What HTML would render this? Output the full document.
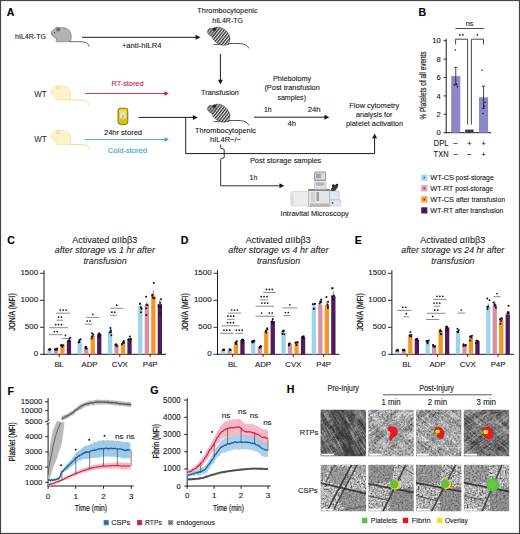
<!DOCTYPE html>
<html><head><meta charset="utf-8"><style>
html,body{margin:0;padding:0;background:#fff;overflow:hidden}
svg{display:block}
text{font-family:"Liberation Sans",sans-serif}
</style></head><body>
<svg width="520" height="534" viewBox="0 0 520 534" font-family="Liberation Sans, sans-serif" fill="#1a1a1a">
<rect x="0.5" y="0.5" width="519" height="533" fill="none" stroke="#444" stroke-width="1.2"/>
<text x="6.7" y="16" font-size="10.6" font-weight="bold" fill="#000" stroke="#000" stroke-width="0.12">A</text>
<text x="418.5" y="16" font-size="10.6" font-weight="bold" fill="#000" stroke="#000" stroke-width="0.12">B</text>
<text x="7.2" y="244.3" font-size="10.6" font-weight="bold" fill="#000" stroke="#000" stroke-width="0.12">C</text>
<text x="180.8" y="244.3" font-size="10.6" font-weight="bold" fill="#000" stroke="#000" stroke-width="0.12">D</text>
<text x="354.7" y="244.3" font-size="10.6" font-weight="bold" fill="#000" stroke="#000" stroke-width="0.12">E</text>
<text x="7.5" y="394.6" font-size="10.6" font-weight="bold" fill="#000" stroke="#000" stroke-width="0.12">F</text>
<text x="150.3" y="394.2" font-size="10.6" font-weight="bold" fill="#000" stroke="#000" stroke-width="0.12">G</text>
<text x="286.8" y="393.3" font-size="10.6" font-weight="bold" fill="#000" stroke="#000" stroke-width="0.12">H</text>
<defs>
<pattern id="stripes" patternUnits="userSpaceOnUse" width="2.4" height="2.4" patternTransform="rotate(38)">
<rect width="2.4" height="2.4" fill="#f2f2f2"/><rect width="1.25" height="2.4" fill="#2a2a2a"/></pattern>
<linearGradient id="bagg" x1="0" y1="0" x2="1" y2="0"><stop offset="0" stop-color="#e0b400"/><stop offset="0.5" stop-color="#f6d33a"/><stop offset="1" stop-color="#d8a800"/></linearGradient>
</defs>
<g transform="translate(51 26.2) scale(1)">
<path d="M18.6 15.3C24 15.8 30 15.2 34 16C36.4 16.6 37.6 18.2 37.9 20" fill="none" stroke="#5a5a5a" stroke-width="0.9" stroke-linecap="round"/>
<path d="M0 7C0.4 5 1.8 3.6 3.6 2.8C4.6 0.8 7.6 0.2 9 1.6C12.5 0.8 17.2 2.2 19.2 5.6C20.6 8.4 20.6 12.6 19.2 15.4L5.6 15.6C4.6 14.8 4.8 13.4 5.8 12.8C3.6 11.6 1 9.6 0 7Z" fill="#b2b2b2" stroke="#6e6e6e" stroke-width="0.6"/>
<ellipse cx="7.2" cy="3.4" rx="2.1" ry="1.9" fill="#6a6a6a"/>
<circle cx="3.6" cy="6.4" r="0.7" fill="#333"/>
<path d="M0.2 7.4C0.8 8 1.6 8.2 2.4 8" fill="none" stroke="#6e6e6e" stroke-width="0.6"/>
</g>
<g transform="translate(0 0)">
<path d="M226 43.6C231 43.8 236 43.2 240.5 43.6C244.5 44 247.5 45.5 248.8 48" fill="none" stroke="#3a3a3a" stroke-width="0.9" stroke-linecap="round"/>
<path d="M213.5 44.5L229 44.5" stroke="#666" stroke-width="1"/>
<path d="M228.48 43.29L227.58 44.09L226.52 44.69L225.31 45.08L223.98 45.26L222.57 45.21L221.12 44.94L219.65 44.45L218.2 43.76L216.81 42.89L215.51 41.85L214.34 40.67L213.33 39.38L212.49 38.01L211.86 36.6L211.43 35.18L211.24 33.78L211.27 32.44L211.54 31.2L212.02 30.08L212.72 29.11L213.62 28.31L214.68 27.71L215.89 27.32L217.22 27.14L218.63 27.19L220.08 27.46L221.55 27.95L223 28.64L224.39 29.51L225.69 30.55L226.86 31.73L227.87 33.02L228.71 34.39L229.34 35.8L229.77 37.22L229.96 38.62L229.93 39.96L229.66 41.2L229.18 42.32Z" fill="url(#stripes)" stroke="#333" stroke-width="0.5"/>
<path d="M215.04 34.61L214.68 35.04L214.23 35.4L213.73 35.69L213.17 35.88L212.57 35.99L211.95 36L211.32 35.92L210.7 35.75L210.1 35.49L209.54 35.15L209.02 34.74L208.57 34.26L208.2 33.73L207.91 33.17L207.71 32.58L207.6 31.98L207.6 31.39L207.69 30.82L207.88 30.28L208.16 29.79L208.52 29.36L208.97 29L209.47 28.71L210.03 28.52L210.63 28.41L211.25 28.4L211.88 28.48L212.5 28.65L213.1 28.91L213.66 29.25L214.18 29.66L214.63 30.14L215 30.67L215.29 31.23L215.49 31.82L215.6 32.42L215.6 33.01L215.51 33.58L215.32 34.12Z" fill="#7a7a7a" stroke="#333" stroke-width="0.5"/>
<path d="M215.04 34.61L214.68 35.04L214.23 35.4L213.73 35.69L213.17 35.88L212.57 35.99L211.95 36L211.32 35.92L210.7 35.75L210.1 35.49L209.54 35.15L209.02 34.74L208.57 34.26L208.2 33.73L207.91 33.17L207.71 32.58L207.6 31.98L207.6 31.39L207.69 30.82L207.88 30.28L208.16 29.79L208.52 29.36L208.97 29L209.47 28.71L210.03 28.52L210.63 28.41L211.25 28.4L211.88 28.48L212.5 28.65L213.1 28.91L213.66 29.25L214.18 29.66L214.63 30.14L215 30.67L215.29 31.23L215.49 31.82L215.6 32.42L215.6 33.01L215.51 33.58L215.32 34.12Z" fill="url(#stripes)" fill-opacity="0.45"/>
<ellipse cx="214.4" cy="29.2" rx="1.9" ry="1.6" fill="#2a2a2a"/>
</g>
<g transform="translate(0 77)">
<path d="M226 43.6C231 43.8 236 43.2 240.5 43.6C244.5 44 247.5 45.5 248.8 48" fill="none" stroke="#3a3a3a" stroke-width="0.9" stroke-linecap="round"/>
<path d="M213.5 44.5L229 44.5" stroke="#666" stroke-width="1"/>
<path d="M228.48 43.29L227.58 44.09L226.52 44.69L225.31 45.08L223.98 45.26L222.57 45.21L221.12 44.94L219.65 44.45L218.2 43.76L216.81 42.89L215.51 41.85L214.34 40.67L213.33 39.38L212.49 38.01L211.86 36.6L211.43 35.18L211.24 33.78L211.27 32.44L211.54 31.2L212.02 30.08L212.72 29.11L213.62 28.31L214.68 27.71L215.89 27.32L217.22 27.14L218.63 27.19L220.08 27.46L221.55 27.95L223 28.64L224.39 29.51L225.69 30.55L226.86 31.73L227.87 33.02L228.71 34.39L229.34 35.8L229.77 37.22L229.96 38.62L229.93 39.96L229.66 41.2L229.18 42.32Z" fill="url(#stripes)" stroke="#333" stroke-width="0.5"/>
<path d="M215.04 34.61L214.68 35.04L214.23 35.4L213.73 35.69L213.17 35.88L212.57 35.99L211.95 36L211.32 35.92L210.7 35.75L210.1 35.49L209.54 35.15L209.02 34.74L208.57 34.26L208.2 33.73L207.91 33.17L207.71 32.58L207.6 31.98L207.6 31.39L207.69 30.82L207.88 30.28L208.16 29.79L208.52 29.36L208.97 29L209.47 28.71L210.03 28.52L210.63 28.41L211.25 28.4L211.88 28.48L212.5 28.65L213.1 28.91L213.66 29.25L214.18 29.66L214.63 30.14L215 30.67L215.29 31.23L215.49 31.82L215.6 32.42L215.6 33.01L215.51 33.58L215.32 34.12Z" fill="#7a7a7a" stroke="#333" stroke-width="0.5"/>
<path d="M215.04 34.61L214.68 35.04L214.23 35.4L213.73 35.69L213.17 35.88L212.57 35.99L211.95 36L211.32 35.92L210.7 35.75L210.1 35.49L209.54 35.15L209.02 34.74L208.57 34.26L208.2 33.73L207.91 33.17L207.71 32.58L207.6 31.98L207.6 31.39L207.69 30.82L207.88 30.28L208.16 29.79L208.52 29.36L208.97 29L209.47 28.71L210.03 28.52L210.63 28.41L211.25 28.4L211.88 28.48L212.5 28.65L213.1 28.91L213.66 29.25L214.18 29.66L214.63 30.14L215 30.67L215.29 31.23L215.49 31.82L215.6 32.42L215.6 33.01L215.51 33.58L215.32 34.12Z" fill="url(#stripes)" fill-opacity="0.45"/>
<ellipse cx="214.4" cy="29.2" rx="1.9" ry="1.6" fill="#2a2a2a"/>
</g>
<g transform="translate(50.6 84.4) scale(1)">
<path d="M18.6 15.3C24 15.8 30 15.2 34 16C36.4 16.6 37.6 18.2 37.9 20" fill="none" stroke="#ecd684" stroke-width="0.9" stroke-linecap="round"/>
<path d="M0 7C0.4 5 1.8 3.6 3.6 2.8C4.6 0.8 7.6 0.2 9 1.6C12.5 0.8 17.2 2.2 19.2 5.6C20.6 8.4 20.6 12.6 19.2 15.4L5.6 15.6C4.6 14.8 4.8 13.4 5.8 12.8C3.6 11.6 1 9.6 0 7Z" fill="#fcf3cc" stroke="#f0dc94" stroke-width="0.6"/>
<ellipse cx="7.2" cy="3.4" rx="2.1" ry="1.9" fill="#f4e2a4"/>
<path d="M0.2 7.4C0.8 8 1.6 8.2 2.4 8" fill="none" stroke="#f0dc94" stroke-width="0.6"/>
</g>
<g transform="translate(50.8 129) scale(1)">
<path d="M18.6 15.3C24 15.8 30 15.2 34 16C36.4 16.6 37.6 18.2 37.9 20" fill="none" stroke="#ecd684" stroke-width="0.9" stroke-linecap="round"/>
<path d="M0 7C0.4 5 1.8 3.6 3.6 2.8C4.6 0.8 7.6 0.2 9 1.6C12.5 0.8 17.2 2.2 19.2 5.6C20.6 8.4 20.6 12.6 19.2 15.4L5.6 15.6C4.6 14.8 4.8 13.4 5.8 12.8C3.6 11.6 1 9.6 0 7Z" fill="#fcf3cc" stroke="#f0dc94" stroke-width="0.6"/>
<ellipse cx="7.2" cy="3.4" rx="2.1" ry="1.9" fill="#f4e2a4"/>
<path d="M0.2 7.4C0.8 8 1.6 8.2 2.4 8" fill="none" stroke="#f0dc94" stroke-width="0.6"/>
</g>
<text x="15" y="38.5" font-size="7.81" textLength="31" lengthAdjust="spacingAndGlyphs" stroke="#1a1a1a" stroke-width="0.12">hIL4R-TG</text>
<line x1="82" y1="37.3" x2="196" y2="37.3" stroke="#1a1a1a" stroke-width="1" />
<path d="M200.5 37.3L195.55 34.82L195.55 39.77Z" fill="#1a1a1a" stroke="none" stroke-width="1" />
<text x="141.7" y="48" font-size="7.81" text-anchor="middle" textLength="39.6" lengthAdjust="spacingAndGlyphs" stroke="#1a1a1a" stroke-width="0.12">+anti-hILR4</text>
<text x="227.5" y="12.6" font-size="7.81" text-anchor="middle" textLength="60.3" lengthAdjust="spacingAndGlyphs" stroke="#1a1a1a" stroke-width="0.12">Thrombocytopenic</text>
<text x="227.6" y="22.8" font-size="7.81" text-anchor="middle" textLength="30.7" lengthAdjust="spacingAndGlyphs" stroke="#1a1a1a" stroke-width="0.12">hIL4R-TG</text>
<line x1="220.4" y1="54" x2="220.4" y2="80" stroke="#1a1a1a" stroke-width="1" />
<path d="M220.4 84.6L217.93 79.65L222.88 79.65Z" fill="#1a1a1a" stroke="none" stroke-width="1" />
<text x="220" y="94.9" font-size="7.81" text-anchor="middle" textLength="37.8" lengthAdjust="spacingAndGlyphs" stroke="#1a1a1a" stroke-width="0.12">Transfusion</text>
<text x="34.2" y="96.7" font-size="8.24" textLength="12.4" lengthAdjust="spacingAndGlyphs">WT</text>
<text x="34.2" y="141.7" font-size="8.24" textLength="12.4" lengthAdjust="spacingAndGlyphs">WT</text>
<text x="127.5" y="86" font-size="7.81" text-anchor="middle" fill="#c8204a" textLength="32" lengthAdjust="spacingAndGlyphs" stroke="#c8204a" stroke-width="0.12">RT-stored</text>
<line x1="85" y1="93.5" x2="165" y2="93.5" stroke="#c8204a" stroke-width="0.9" />
<path d="M169 93.5L164.5 91.25L164.5 95.75Z" fill="#c8204a" stroke="none" stroke-width="1" />
<text x="127.4" y="153.4" font-size="7.81" text-anchor="middle" fill="#36a5d6" textLength="39.3" lengthAdjust="spacingAndGlyphs" stroke="#36a5d6" stroke-width="0.12">Cold-stored</text>
<line x1="85" y1="139.6" x2="165" y2="139.6" stroke="#36a5d6" stroke-width="0.9" />
<path d="M169 139.6L164.5 137.35L164.5 141.85Z" fill="#36a5d6" stroke="none" stroke-width="1" />
<text x="123" y="135.4" font-size="7.81" text-anchor="middle" textLength="38" lengthAdjust="spacingAndGlyphs" stroke="#1a1a1a" stroke-width="0.12">24hr stored</text>
<g><rect x="118" y="108.2" width="9.8" height="16.2" rx="2.6" fill="#e4cc10" stroke="#5e5000" stroke-width="0.8"/><rect x="119.2" y="110" width="7.4" height="3" rx="1" fill="#f2e030"/><rect x="120" y="112.6" width="5.8" height="5.6" rx="0.6" fill="#dfe4d8"/><path d="M121.4 117.6L122.9 114L124.4 117.6Z" fill="#a8b4c8"/><rect x="119.2" y="119.6" width="7.4" height="3.6" rx="1.2" fill="#d8c000"/></g>
<line x1="138.5" y1="117.4" x2="194" y2="117.4" stroke="#1a1a1a" stroke-width="1" />
<path d="M197.8 117.4L192.85 114.93L192.85 119.88Z" fill="#1a1a1a" stroke="none" stroke-width="1" />
<path d="M185.7 117.4V153.6H374.6V137" fill="none" stroke="#1a1a1a" stroke-width="1" />
<path d="M374.6 133.4L372.12 138.35L377.08 138.35Z" fill="#1a1a1a" stroke="none" stroke-width="1" />
<text x="225.5" y="133.2" font-size="7.81" text-anchor="middle" textLength="61" lengthAdjust="spacingAndGlyphs" stroke="#1a1a1a" stroke-width="0.12">Thrombocytopenic</text>
<text x="225.5" y="141.6" font-size="7.81" text-anchor="middle" textLength="31" lengthAdjust="spacingAndGlyphs" stroke="#1a1a1a" stroke-width="0.12">hIL4R−/−</text>
<line x1="254" y1="117.2" x2="325" y2="117.2" stroke="#1a1a1a" stroke-width="1" />
<path d="M329.4 117.2L324.45 114.73L324.45 119.67Z" fill="#1a1a1a" stroke="none" stroke-width="1" />
<text x="264" y="112.3" font-size="7.81" textLength="7.6" lengthAdjust="spacingAndGlyphs" stroke="#1a1a1a" stroke-width="0.12">1h</text>
<text x="307.7" y="112.3" font-size="7.81" textLength="13" lengthAdjust="spacingAndGlyphs" stroke="#1a1a1a" stroke-width="0.12">24h</text>
<text x="287.5" y="126.3" font-size="7.81" textLength="8.5" lengthAdjust="spacingAndGlyphs" stroke="#1a1a1a" stroke-width="0.12">4h</text>
<text x="292" y="81.2" font-size="7.81" text-anchor="middle" textLength="38" lengthAdjust="spacingAndGlyphs" stroke="#1a1a1a" stroke-width="0.12">Phlebotomy</text>
<text x="292.1" y="90.3" font-size="7.81" text-anchor="middle" textLength="55.4" lengthAdjust="spacingAndGlyphs" stroke="#1a1a1a" stroke-width="0.12">(Post transfusion</text>
<text x="291.7" y="99.5" font-size="7.81" text-anchor="middle" textLength="28.6" lengthAdjust="spacingAndGlyphs" stroke="#1a1a1a" stroke-width="0.12">samples)</text>
<text x="374.3" y="108.2" font-size="7.81" text-anchor="middle" textLength="50" lengthAdjust="spacingAndGlyphs" stroke="#1a1a1a" stroke-width="0.12">Flow cytometry</text>
<text x="374.2" y="116.9" font-size="7.81" text-anchor="middle" textLength="36.6" lengthAdjust="spacingAndGlyphs" stroke="#1a1a1a" stroke-width="0.12">analysis for</text>
<text x="374.5" y="126.2" font-size="7.81" text-anchor="middle" textLength="57" lengthAdjust="spacingAndGlyphs" stroke="#1a1a1a" stroke-width="0.12">platelet activation</text>
<text x="285.6" y="163.4" font-size="7.81" text-anchor="middle" textLength="71.4" lengthAdjust="spacingAndGlyphs" stroke="#1a1a1a" stroke-width="0.12">Post storage samples</text>
<path d="M220.7 144.4V147.6Q220.7 148.8 222 148.8H223Q224.2 148.8 224.2 150V157Q224.2 158.2 223 158.2H222Q220.7 158.2 220.7 159.4V185.8H281" fill="none" stroke="#1a1a1a" stroke-width="0.9" />
<path d="M284.4 185.8L279.45 183.33L279.45 188.28Z" fill="#1a1a1a" stroke="none" stroke-width="1" />
<text x="249.6" y="180" font-size="7.81" textLength="7.6" lengthAdjust="spacingAndGlyphs" stroke="#1a1a1a" stroke-width="0.12">1h</text>
<text x="314.7" y="216.4" font-size="7.81" text-anchor="middle" textLength="68.2" lengthAdjust="spacingAndGlyphs" stroke="#1a1a1a" stroke-width="0.12">Intravital Microscopy</text>
<g><rect x="290.8" y="191.5" width="18.6" height="14.5" rx="1.5" fill="#ececee" stroke="#c4c4c8" stroke-width="0.5"/><rect x="291.6" y="193" width="2.2" height="11.5" fill="#dcdce0"/><rect x="308.6" y="189.4" width="21" height="17" fill="#e4e4e8" stroke="#909096" stroke-width="0.5"/><rect x="308.6" y="189.4" width="21" height="1.2" fill="#55555a"/><rect x="311" y="192" width="4" height="10" fill="#d0d0d4"/><rect x="316.5" y="192" width="2.4" height="9" fill="#9a9aa0"/><rect x="314.4" y="180" width="11.6" height="9.4" fill="#e0e0e4" stroke="#a0a0a6" stroke-width="0.4"/><rect x="316" y="182.5" width="8" height="3" fill="#b0b0b6"/><rect x="314.6" y="172" width="11" height="8.2" rx="0.8" fill="#dadade" stroke="#5a5a60" stroke-width="0.6"/><rect x="316" y="173.6" width="5" height="4.6" fill="#a4a4aa"/><path d="M330 191L333 185.5L336.5 184.6L338 187L335 191Z" fill="#3a3a40"/><circle cx="333.2" cy="185.6" r="1.3" fill="#222"/><circle cx="337" cy="185" r="1.3" fill="#222"/><rect x="329.6" y="191" width="9.6" height="9" rx="1" fill="#dfe6f2" stroke="#9aa0b0" stroke-width="0.4"/><rect x="329.6" y="200" width="11" height="6" fill="#e8e8ec" stroke="#a0a0a8" stroke-width="0.4"/><circle cx="332.5" cy="203" r="0.9" fill="#555"/><rect x="310" y="203.5" width="19" height="2.6" fill="#b4b4ba"/></g>
<line x1="446.2" y1="38.8" x2="446.2" y2="133.2" stroke="#1a1a1a" stroke-width="1" />
<line x1="445.7" y1="132.7" x2="491" y2="132.7" stroke="#1a1a1a" stroke-width="1" />
<line x1="443.6" y1="132.7" x2="446.2" y2="132.7" stroke="#1a1a1a" stroke-width="0.9" />
<text x="440.7" y="135.3" font-size="7.6" text-anchor="end" stroke="#1a1a1a" stroke-width="0.12">0</text>
<line x1="443.6" y1="114.3" x2="446.2" y2="114.3" stroke="#1a1a1a" stroke-width="0.9" />
<text x="440.7" y="116.9" font-size="7.6" text-anchor="end" stroke="#1a1a1a" stroke-width="0.12">2</text>
<line x1="443.6" y1="95.9" x2="446.2" y2="95.9" stroke="#1a1a1a" stroke-width="0.9" />
<text x="440.7" y="98.5" font-size="7.6" text-anchor="end" stroke="#1a1a1a" stroke-width="0.12">4</text>
<line x1="443.6" y1="77.5" x2="446.2" y2="77.5" stroke="#1a1a1a" stroke-width="0.9" />
<text x="440.7" y="80.1" font-size="7.6" text-anchor="end" stroke="#1a1a1a" stroke-width="0.12">6</text>
<line x1="443.6" y1="59.1" x2="446.2" y2="59.1" stroke="#1a1a1a" stroke-width="0.9" />
<text x="440.7" y="61.7" font-size="7.6" text-anchor="end" stroke="#1a1a1a" stroke-width="0.12">8</text>
<line x1="443.6" y1="40.7" x2="446.2" y2="40.7" stroke="#1a1a1a" stroke-width="0.9" />
<text x="440.7" y="43.3" font-size="7.6" text-anchor="end" stroke="#1a1a1a" stroke-width="0.12">10</text>
<rect x="451.2" y="76.12" width="9.1" height="56.58" fill="#8b87c8" />
<line x1="455.75" y1="67.38" x2="455.75" y2="84.86" stroke="#1a1a1a" stroke-width="0.8" />
<line x1="454.15" y1="67.38" x2="457.35" y2="67.38" stroke="#1a1a1a" stroke-width="0.8" />
<line x1="454.15" y1="84.86" x2="457.35" y2="84.86" stroke="#1a1a1a" stroke-width="0.8" />
<circle cx="454.25" cy="84.86" r="0.75" fill="#111"/>
<circle cx="456.55" cy="83.94" r="0.75" fill="#111"/>
<circle cx="455.35" cy="49.9" r="0.75" fill="#111"/>
<circle cx="457.35" cy="86.7" r="0.75" fill="#111"/>
<rect x="464" y="131.6" width="9.1" height="1.1" fill="#8b87c8" />
<line x1="468.55" y1="130.86" x2="468.55" y2="132.33" stroke="#1a1a1a" stroke-width="0.8" />
<line x1="466.95" y1="130.86" x2="470.15" y2="130.86" stroke="#1a1a1a" stroke-width="0.8" />
<circle cx="467.05" cy="131.78" r="0.75" fill="#111"/>
<circle cx="469.35" cy="131.32" r="0.75" fill="#111"/>
<circle cx="468.15" cy="132.24" r="0.75" fill="#111"/>
<circle cx="470.15" cy="131.78" r="0.75" fill="#111"/>
<rect x="479" y="97.28" width="9.1" height="35.42" fill="#8b87c8" />
<line x1="483.55" y1="86.24" x2="483.55" y2="108.32" stroke="#1a1a1a" stroke-width="0.8" />
<line x1="481.95" y1="86.24" x2="485.15" y2="86.24" stroke="#1a1a1a" stroke-width="0.8" />
<line x1="481.95" y1="108.32" x2="485.15" y2="108.32" stroke="#1a1a1a" stroke-width="0.8" />
<circle cx="482.05" cy="70.14" r="0.75" fill="#111"/>
<circle cx="484.35" cy="106.02" r="0.75" fill="#111"/>
<circle cx="483.15" cy="113.38" r="0.75" fill="#111"/>
<circle cx="485.15" cy="102.34" r="0.75" fill="#111"/>
<rect x="465.3" y="129.6" width="8.2" height="2.8" fill="#2a2a2a" />
<rect x="467" y="130.4" width="1" height="1.2" fill="#888" />
<rect x="470" y="130.4" width="1" height="1.2" fill="#888" />
<path d="M455.6 44.5V39.2H467.6V124.6" fill="none" stroke="#1a1a1a" stroke-width="0.8" />
<path d="M471.4 124.6V39.2H483.5V44.5" fill="none" stroke="#1a1a1a" stroke-width="0.8" />
<line x1="455.4" y1="28.5" x2="483.8" y2="28.5" stroke="#1a1a1a" stroke-width="0.8" />
<text x="469.6" y="25.6" font-size="7.4" text-anchor="middle" stroke="#1a1a1a" stroke-width="0.12">ns</text>
<circle cx="459.9" cy="34.8" r="0.85" fill="#111"/><circle cx="462.9" cy="34.8" r="0.85" fill="#111"/>
<circle cx="477.4" cy="34.8" r="0.85" fill="#111"/>
<text x="0" y="0" font-size="8.67" text-anchor="middle" textLength="68" lengthAdjust="spacingAndGlyphs" transform="translate(426.2 85.5) rotate(-90)" stroke="#1a1a1a" stroke-width="0.18">% Platelets of all events</text>
<text x="433.6" y="146" font-size="9.2" textLength="15" lengthAdjust="spacingAndGlyphs" stroke="#1a1a1a" stroke-width="0.12">DPL</text>
<text x="433.6" y="157" font-size="9.2" textLength="15" lengthAdjust="spacingAndGlyphs" stroke="#1a1a1a" stroke-width="0.12">TXN</text>
<text x="455.6" y="145.6" font-size="8" text-anchor="middle" stroke="#1a1a1a" stroke-width="0.12">−</text>
<text x="469.3" y="145.6" font-size="8" text-anchor="middle" stroke="#1a1a1a" stroke-width="0.12">+</text>
<text x="483.6" y="145.6" font-size="8" text-anchor="middle" stroke="#1a1a1a" stroke-width="0.12">+</text>
<text x="455.6" y="156.6" font-size="8" text-anchor="middle" stroke="#1a1a1a" stroke-width="0.12">−</text>
<text x="469.3" y="156.6" font-size="8" text-anchor="middle" stroke="#1a1a1a" stroke-width="0.12">−</text>
<text x="483.6" y="156.6" font-size="8" text-anchor="middle" stroke="#1a1a1a" stroke-width="0.12">+</text>
<rect x="421.2" y="174.6" width="6.2" height="6.2" fill="#a5d8f0" />
<circle cx="424.3" cy="177.7" r="0.85" fill="#2a6a9a"/>
<text x="430.2" y="180.4" font-size="7.9" textLength="63.5" lengthAdjust="spacingAndGlyphs" stroke="#1a1a1a" stroke-width="0.12">WT-CS<tspan font-size="7.3"> post-storage</tspan></text>
<rect x="421.2" y="185.2" width="6.2" height="6.2" fill="#e2a0ae" />
<circle cx="424.3" cy="188.3" r="0.85" fill="#7a2a3a"/>
<text x="430.2" y="191" font-size="7.9" textLength="62.8" lengthAdjust="spacingAndGlyphs" stroke="#1a1a1a" stroke-width="0.12">WT-RT<tspan font-size="7.3"> post-storage</tspan></text>
<rect x="421.2" y="196.3" width="6.2" height="6.2" fill="#f5a23a" />
<circle cx="424.3" cy="199.4" r="0.85" fill="#6a3a00"/>
<text x="430.2" y="202.1" font-size="7.9" textLength="74.8" lengthAdjust="spacingAndGlyphs" stroke="#1a1a1a" stroke-width="0.12">WT-CS<tspan font-size="7.3"> after transfusion</tspan></text>
<rect x="421.2" y="207.3" width="6.2" height="6.2" fill="#4e1c5e" />
<circle cx="424.3" cy="210.4" r="0.85" fill="#2a0a3a"/>
<text x="430.2" y="213.1" font-size="7.9" textLength="73.1" lengthAdjust="spacingAndGlyphs" stroke="#1a1a1a" stroke-width="0.12">WT-RT<tspan font-size="7.3"> after transfusion</tspan></text>
<text x="104.8" y="242.7" font-size="9.2" text-anchor="middle" textLength="65" lengthAdjust="spacingAndGlyphs" stroke="#1a1a1a" stroke-width="0.08">Activated αIIbβ3</text>
<text x="104.9" y="253.3" font-size="9.2" text-anchor="middle" font-style="italic" textLength="100.4" lengthAdjust="spacingAndGlyphs" stroke="#1a1a1a" stroke-width="0.08">after storage vs 1 hr after</text>
<text x="105" y="263.8" font-size="9.2" text-anchor="middle" font-style="italic" textLength="43.2" lengthAdjust="spacingAndGlyphs" stroke="#1a1a1a" stroke-width="0.08">transfusion</text>
<line x1="44" y1="270.2" x2="44" y2="354.8" stroke="#1a1a1a" stroke-width="1" />
<line x1="43.5" y1="354.3" x2="166" y2="354.3" stroke="#1a1a1a" stroke-width="1" />
<line x1="40" y1="354.3" x2="44" y2="354.3" stroke="#1a1a1a" stroke-width="0.9" />
<text x="38.1" y="356.4" font-size="7.49" text-anchor="end" textLength="4.42" lengthAdjust="spacingAndGlyphs" stroke="#1a1a1a" stroke-width="0.12">0</text>
<line x1="40" y1="327.3" x2="44" y2="327.3" stroke="#1a1a1a" stroke-width="0.9" />
<text x="38.1" y="329.4" font-size="7.49" text-anchor="end" textLength="13.26" lengthAdjust="spacingAndGlyphs" stroke="#1a1a1a" stroke-width="0.12">500</text>
<line x1="40" y1="300.3" x2="44" y2="300.3" stroke="#1a1a1a" stroke-width="0.9" />
<text x="38.1" y="302.4" font-size="7.49" text-anchor="end" textLength="17.68" lengthAdjust="spacingAndGlyphs" stroke="#1a1a1a" stroke-width="0.12">1000</text>
<line x1="40" y1="273.3" x2="44" y2="273.3" stroke="#1a1a1a" stroke-width="0.9" />
<text x="38.1" y="275.4" font-size="7.49" text-anchor="end" textLength="17.68" lengthAdjust="spacingAndGlyphs" stroke="#1a1a1a" stroke-width="0.12">1500</text>
<text x="0" y="0" font-size="8.77" text-anchor="middle" textLength="37.6" lengthAdjust="spacingAndGlyphs" transform="translate(14.7 312) rotate(-90)" stroke="#1a1a1a" stroke-width="0.3">JON/A (MFI)</text>
<line x1="59.2" y1="354.3" x2="59.2" y2="356.9" stroke="#1a1a1a" stroke-width="0.9" />
<text x="59.2" y="367.1" font-size="7.8" text-anchor="middle" stroke="#1a1a1a" stroke-width="0.12">BL</text>
<rect x="47.3" y="349.44" width="4.3" height="4.86" fill="#9bd3ee" />
<line x1="49.45" y1="348.63" x2="49.45" y2="349.44" stroke="#333" stroke-width="0.6" />
<circle cx="49.61" cy="349.45" r="1.0" fill="#111"/>
<circle cx="49.36" cy="349.17" r="1.0" fill="#111"/>
<circle cx="49.68" cy="349.42" r="1.0" fill="#111"/>
<circle cx="49.48" cy="350.04" r="1.0" fill="#111"/>
<circle cx="50.21" cy="349.13" r="1.0" fill="#111"/>
<rect x="53.8" y="349.44" width="4.3" height="4.86" fill="#d98fa0" />
<line x1="55.95" y1="348.63" x2="55.95" y2="349.44" stroke="#333" stroke-width="0.6" />
<circle cx="55.44" cy="349.67" r="1.0" fill="#111"/>
<circle cx="56.76" cy="349.68" r="1.0" fill="#111"/>
<circle cx="54.76" cy="349.31" r="1.0" fill="#111"/>
<circle cx="57.16" cy="348.41" r="1.0" fill="#111"/>
<circle cx="56.25" cy="349.08" r="1.0" fill="#111"/>
<rect x="60.3" y="345.12" width="4.3" height="9.18" fill="#f6951f" />
<line x1="62.45" y1="344.31" x2="62.45" y2="345.12" stroke="#333" stroke-width="0.6" />
<circle cx="61.19" cy="345.49" r="1.0" fill="#111"/>
<circle cx="61.3" cy="345.06" r="1.0" fill="#111"/>
<circle cx="61.78" cy="345.45" r="1.0" fill="#111"/>
<circle cx="62.36" cy="346.84" r="1.0" fill="#111"/>
<circle cx="63.34" cy="345.26" r="1.0" fill="#111"/>
<rect x="66.8" y="340.8" width="4.3" height="13.5" fill="#4e1c5e" />
<line x1="68.95" y1="339.72" x2="68.95" y2="340.8" stroke="#333" stroke-width="0.6" />
<circle cx="69.31" cy="340.73" r="1.0" fill="#111"/>
<circle cx="69.37" cy="340.76" r="1.0" fill="#111"/>
<circle cx="68.37" cy="340.83" r="1.0" fill="#111"/>
<circle cx="70.24" cy="337.84" r="1.0" fill="#111"/>
<circle cx="69.49" cy="338.74" r="1.0" fill="#111"/>
<line x1="89.5" y1="354.3" x2="89.5" y2="356.9" stroke="#1a1a1a" stroke-width="0.9" />
<text x="89.5" y="367.1" font-size="7.8" text-anchor="middle" stroke="#1a1a1a" stroke-width="0.12">ADP</text>
<rect x="77.6" y="341.88" width="4.3" height="12.42" fill="#9bd3ee" />
<line x1="79.75" y1="340.89" x2="79.75" y2="341.88" stroke="#333" stroke-width="0.6" />
<circle cx="79.05" cy="342.13" r="1.0" fill="#111"/>
<circle cx="78.63" cy="342.17" r="1.0" fill="#111"/>
<circle cx="79.49" cy="341.43" r="1.0" fill="#111"/>
<circle cx="79.45" cy="339.95" r="1.0" fill="#111"/>
<circle cx="80.65" cy="339.37" r="1.0" fill="#111"/>
<rect x="84.1" y="347.55" width="4.3" height="6.75" fill="#d98fa0" />
<line x1="86.25" y1="346.74" x2="86.25" y2="347.55" stroke="#333" stroke-width="0.6" />
<circle cx="85.5" cy="347.95" r="1.0" fill="#111"/>
<circle cx="86.17" cy="347.18" r="1.0" fill="#111"/>
<circle cx="85.98" cy="347.12" r="1.0" fill="#111"/>
<circle cx="86.59" cy="348.69" r="1.0" fill="#111"/>
<circle cx="85.65" cy="346.69" r="1.0" fill="#111"/>
<rect x="90.6" y="335.67" width="4.3" height="18.63" fill="#f6951f" />
<line x1="92.75" y1="334.18" x2="92.75" y2="335.67" stroke="#333" stroke-width="0.6" />
<circle cx="92.31" cy="336.58" r="1.0" fill="#111"/>
<circle cx="93.42" cy="334.52" r="1.0" fill="#111"/>
<circle cx="92.09" cy="336.51" r="1.0" fill="#111"/>
<circle cx="91.61" cy="338.61" r="1.0" fill="#111"/>
<circle cx="91.91" cy="333.16" r="1.0" fill="#111"/>
<rect x="97.1" y="333.78" width="4.3" height="20.52" fill="#4e1c5e" />
<line x1="99.25" y1="332.14" x2="99.25" y2="333.78" stroke="#333" stroke-width="0.6" />
<circle cx="99.11" cy="333.57" r="1.0" fill="#111"/>
<circle cx="99.85" cy="334.52" r="1.0" fill="#111"/>
<circle cx="99.62" cy="334.67" r="1.0" fill="#111"/>
<circle cx="99.04" cy="336.88" r="1.0" fill="#111"/>
<circle cx="98.65" cy="336.05" r="1.0" fill="#111"/>
<line x1="119.8" y1="354.3" x2="119.8" y2="356.9" stroke="#1a1a1a" stroke-width="0.9" />
<text x="119.8" y="367.1" font-size="7.8" text-anchor="middle" stroke="#1a1a1a" stroke-width="0.12">CVX</text>
<rect x="107.9" y="331.62" width="4.3" height="22.68" fill="#9bd3ee" />
<line x1="110.05" y1="329.81" x2="110.05" y2="331.62" stroke="#333" stroke-width="0.6" />
<circle cx="110.84" cy="330.21" r="1.0" fill="#111"/>
<circle cx="111.05" cy="332.11" r="1.0" fill="#111"/>
<circle cx="109.78" cy="332.38" r="1.0" fill="#111"/>
<circle cx="110.42" cy="328.02" r="1.0" fill="#111"/>
<circle cx="111.32" cy="335.2" r="1.0" fill="#111"/>
<rect x="114.4" y="344.58" width="4.3" height="9.72" fill="#d98fa0" />
<line x1="116.55" y1="343.77" x2="116.55" y2="344.58" stroke="#333" stroke-width="0.6" />
<circle cx="115.92" cy="344.9" r="1.0" fill="#111"/>
<circle cx="116.11" cy="344.22" r="1.0" fill="#111"/>
<circle cx="115.44" cy="344.8" r="1.0" fill="#111"/>
<circle cx="116.77" cy="346.16" r="1.0" fill="#111"/>
<circle cx="116.81" cy="345.53" r="1.0" fill="#111"/>
<rect x="120.9" y="342.96" width="4.3" height="11.34" fill="#f6951f" />
<line x1="123.05" y1="342.05" x2="123.05" y2="342.96" stroke="#333" stroke-width="0.6" />
<circle cx="122.93" cy="343.11" r="1.0" fill="#111"/>
<circle cx="123.01" cy="342.27" r="1.0" fill="#111"/>
<circle cx="124" cy="342.82" r="1.0" fill="#111"/>
<circle cx="122.15" cy="344.36" r="1.0" fill="#111"/>
<circle cx="123.88" cy="340.9" r="1.0" fill="#111"/>
<rect x="127.4" y="339.18" width="4.3" height="15.12" fill="#4e1c5e" />
<line x1="129.55" y1="337.97" x2="129.55" y2="339.18" stroke="#333" stroke-width="0.6" />
<circle cx="128.74" cy="339.61" r="1.0" fill="#111"/>
<circle cx="130.7" cy="338.68" r="1.0" fill="#111"/>
<circle cx="130.72" cy="339.71" r="1.0" fill="#111"/>
<circle cx="129.82" cy="336.6" r="1.0" fill="#111"/>
<circle cx="128.52" cy="339.53" r="1.0" fill="#111"/>
<line x1="150.1" y1="354.3" x2="150.1" y2="356.9" stroke="#1a1a1a" stroke-width="0.9" />
<text x="150.1" y="367.1" font-size="7.8" text-anchor="middle" stroke="#1a1a1a" stroke-width="0.12">P4P</text>
<rect x="138.2" y="306.24" width="4.3" height="48.06" fill="#9bd3ee" />
<line x1="140.35" y1="302.4" x2="140.35" y2="306.24" stroke="#333" stroke-width="0.6" />
<circle cx="141.55" cy="308.89" r="1.0" fill="#111"/>
<circle cx="140.88" cy="307.68" r="1.0" fill="#111"/>
<circle cx="141.19" cy="307.57" r="1.0" fill="#111"/>
<circle cx="139.81" cy="303.81" r="1.0" fill="#111"/>
<circle cx="140.92" cy="312.31" r="1.0" fill="#111"/>
<rect x="144.7" y="305.7" width="4.3" height="48.6" fill="#d98fa0" />
<line x1="146.85" y1="301.81" x2="146.85" y2="305.7" stroke="#333" stroke-width="0.6" />
<circle cx="146.14" cy="308.19" r="1.0" fill="#111"/>
<circle cx="147.77" cy="305.19" r="1.0" fill="#111"/>
<circle cx="146.28" cy="304.85" r="1.0" fill="#111"/>
<circle cx="146.08" cy="296.69" r="1.0" fill="#111"/>
<circle cx="146.25" cy="315.08" r="1.0" fill="#111"/>
<rect x="151.2" y="295.44" width="4.3" height="58.86" fill="#f6951f" />
<line x1="153.35" y1="290.73" x2="153.35" y2="295.44" stroke="#333" stroke-width="0.6" />
<circle cx="152.21" cy="295.67" r="1.0" fill="#111"/>
<circle cx="153.01" cy="297.66" r="1.0" fill="#111"/>
<circle cx="152.39" cy="294.73" r="1.0" fill="#111"/>
<circle cx="154.37" cy="298.26" r="1.0" fill="#111"/>
<circle cx="153.76" cy="282.97" r="1.0" fill="#111"/>
<rect x="157.7" y="304.08" width="4.3" height="50.22" fill="#4e1c5e" />
<line x1="159.85" y1="300.06" x2="159.85" y2="304.08" stroke="#333" stroke-width="0.6" />
<circle cx="160.07" cy="302.72" r="1.0" fill="#111"/>
<circle cx="158.64" cy="306.21" r="1.0" fill="#111"/>
<circle cx="160.92" cy="306.98" r="1.0" fill="#111"/>
<circle cx="161.05" cy="299.34" r="1.0" fill="#111"/>
<circle cx="160.2" cy="313.68" r="1.0" fill="#111"/>
<line x1="49.1" y1="334.7" x2="62.5" y2="334.7" stroke="#5a5a5a" stroke-width="0.7" />
<circle cx="54.35" cy="331.6" r="0.85" fill="#111"/><circle cx="57.25" cy="331.6" r="0.85" fill="#111"/>
<line x1="49.1" y1="327.7" x2="68.1" y2="327.7" stroke="#5a5a5a" stroke-width="0.7" />
<circle cx="55.7" cy="324.6" r="0.85" fill="#111"/><circle cx="58.6" cy="324.6" r="0.85" fill="#111"/><circle cx="61.5" cy="324.6" r="0.85" fill="#111"/>
<line x1="56.6" y1="320.2" x2="63.2" y2="320.2" stroke="#5a5a5a" stroke-width="0.7" />
<circle cx="58.45" cy="317.1" r="0.85" fill="#111"/><circle cx="61.35" cy="317.1" r="0.85" fill="#111"/>
<line x1="56.2" y1="313.2" x2="70.2" y2="313.2" stroke="#5a5a5a" stroke-width="0.7" />
<circle cx="60.3" cy="310.1" r="0.85" fill="#111"/><circle cx="63.2" cy="310.1" r="0.85" fill="#111"/><circle cx="66.1" cy="310.1" r="0.85" fill="#111"/>
<line x1="62.2" y1="338.5" x2="68.8" y2="338.5" stroke="#5a5a5a" stroke-width="0.7" />
<circle cx="65.5" cy="335.4" r="0.85" fill="#111"/>
<line x1="85" y1="324.2" x2="92.3" y2="324.2" stroke="#5a5a5a" stroke-width="0.7" />
<circle cx="87.2" cy="321.1" r="0.85" fill="#111"/><circle cx="90.1" cy="321.1" r="0.85" fill="#111"/>
<line x1="86.4" y1="317.4" x2="99.3" y2="317.4" stroke="#5a5a5a" stroke-width="0.7" />
<circle cx="92.85" cy="314.3" r="0.85" fill="#111"/>
<line x1="109.9" y1="315.3" x2="116.7" y2="315.3" stroke="#5a5a5a" stroke-width="0.7" />
<circle cx="111.85" cy="312.2" r="0.85" fill="#111"/><circle cx="114.75" cy="312.2" r="0.85" fill="#111"/>
<line x1="109.9" y1="308.3" x2="123.5" y2="308.3" stroke="#5a5a5a" stroke-width="0.7" />
<circle cx="116.7" cy="305.2" r="0.85" fill="#111"/>
<text x="278.3" y="242.7" font-size="9.2" text-anchor="middle" textLength="65" lengthAdjust="spacingAndGlyphs" stroke="#1a1a1a" stroke-width="0.08">Activated αIIbβ3</text>
<text x="278.4" y="253.3" font-size="9.2" text-anchor="middle" font-style="italic" textLength="100.4" lengthAdjust="spacingAndGlyphs" stroke="#1a1a1a" stroke-width="0.08">after storage vs 4 hr after</text>
<text x="278.5" y="263.8" font-size="9.2" text-anchor="middle" font-style="italic" textLength="43.2" lengthAdjust="spacingAndGlyphs" stroke="#1a1a1a" stroke-width="0.08">transfusion</text>
<line x1="217.5" y1="270.2" x2="217.5" y2="354.8" stroke="#1a1a1a" stroke-width="1" />
<line x1="217" y1="354.3" x2="339.5" y2="354.3" stroke="#1a1a1a" stroke-width="1" />
<line x1="213.5" y1="354.3" x2="217.5" y2="354.3" stroke="#1a1a1a" stroke-width="0.9" />
<text x="211.6" y="356.4" font-size="7.49" text-anchor="end" textLength="4.42" lengthAdjust="spacingAndGlyphs" stroke="#1a1a1a" stroke-width="0.12">0</text>
<line x1="213.5" y1="327.3" x2="217.5" y2="327.3" stroke="#1a1a1a" stroke-width="0.9" />
<text x="211.6" y="329.4" font-size="7.49" text-anchor="end" textLength="13.26" lengthAdjust="spacingAndGlyphs" stroke="#1a1a1a" stroke-width="0.12">500</text>
<line x1="213.5" y1="300.3" x2="217.5" y2="300.3" stroke="#1a1a1a" stroke-width="0.9" />
<text x="211.6" y="302.4" font-size="7.49" text-anchor="end" textLength="17.68" lengthAdjust="spacingAndGlyphs" stroke="#1a1a1a" stroke-width="0.12">1000</text>
<line x1="213.5" y1="273.3" x2="217.5" y2="273.3" stroke="#1a1a1a" stroke-width="0.9" />
<text x="211.6" y="275.4" font-size="7.49" text-anchor="end" textLength="17.68" lengthAdjust="spacingAndGlyphs" stroke="#1a1a1a" stroke-width="0.12">1500</text>
<text x="0" y="0" font-size="8.77" text-anchor="middle" textLength="37.6" lengthAdjust="spacingAndGlyphs" transform="translate(188.2 312) rotate(-90)" stroke="#1a1a1a" stroke-width="0.3">JON/A (MFI)</text>
<line x1="232.7" y1="354.3" x2="232.7" y2="356.9" stroke="#1a1a1a" stroke-width="0.9" />
<text x="232.7" y="367.1" font-size="7.8" text-anchor="middle" stroke="#1a1a1a" stroke-width="0.12">BL</text>
<rect x="220.8" y="349.98" width="4.3" height="4.32" fill="#9bd3ee" />
<line x1="222.95" y1="349.17" x2="222.95" y2="349.98" stroke="#333" stroke-width="0.6" />
<circle cx="223.55" cy="349.98" r="1.0" fill="#111"/>
<circle cx="224.25" cy="350.07" r="1.0" fill="#111"/>
<circle cx="223.07" cy="350.2" r="1.0" fill="#111"/>
<circle cx="223.99" cy="349.51" r="1.0" fill="#111"/>
<circle cx="223.48" cy="349.51" r="1.0" fill="#111"/>
<rect x="227.3" y="349.98" width="4.3" height="4.32" fill="#d98fa0" />
<line x1="229.45" y1="349.17" x2="229.45" y2="349.98" stroke="#333" stroke-width="0.6" />
<circle cx="230.53" cy="349.81" r="1.0" fill="#111"/>
<circle cx="229.93" cy="350.05" r="1.0" fill="#111"/>
<circle cx="230.41" cy="349.75" r="1.0" fill="#111"/>
<circle cx="230.21" cy="350.09" r="1.0" fill="#111"/>
<circle cx="229.64" cy="349.28" r="1.0" fill="#111"/>
<rect x="233.8" y="343.5" width="4.3" height="10.8" fill="#f6951f" />
<line x1="235.95" y1="342.64" x2="235.95" y2="343.5" stroke="#333" stroke-width="0.6" />
<circle cx="235.64" cy="343.3" r="1.0" fill="#111"/>
<circle cx="236.23" cy="343.36" r="1.0" fill="#111"/>
<circle cx="236.31" cy="344.04" r="1.0" fill="#111"/>
<circle cx="236.94" cy="341.15" r="1.0" fill="#111"/>
<circle cx="235.66" cy="342.36" r="1.0" fill="#111"/>
<rect x="240.3" y="339.99" width="4.3" height="14.31" fill="#4e1c5e" />
<line x1="242.45" y1="338.85" x2="242.45" y2="339.99" stroke="#333" stroke-width="0.6" />
<circle cx="242.66" cy="339.52" r="1.0" fill="#111"/>
<circle cx="243.33" cy="340.05" r="1.0" fill="#111"/>
<circle cx="243.1" cy="340.7" r="1.0" fill="#111"/>
<circle cx="242.71" cy="342.67" r="1.0" fill="#111"/>
<circle cx="241.75" cy="339.96" r="1.0" fill="#111"/>
<line x1="263" y1="354.3" x2="263" y2="356.9" stroke="#1a1a1a" stroke-width="0.9" />
<text x="263" y="367.1" font-size="7.8" text-anchor="middle" stroke="#1a1a1a" stroke-width="0.12">ADP</text>
<rect x="251.1" y="341.07" width="4.3" height="13.23" fill="#9bd3ee" />
<line x1="253.25" y1="340.01" x2="253.25" y2="341.07" stroke="#333" stroke-width="0.6" />
<circle cx="253.24" cy="340.7" r="1.0" fill="#111"/>
<circle cx="254.34" cy="340.84" r="1.0" fill="#111"/>
<circle cx="251.98" cy="341.44" r="1.0" fill="#111"/>
<circle cx="253.71" cy="342.04" r="1.0" fill="#111"/>
<circle cx="252.39" cy="342.59" r="1.0" fill="#111"/>
<rect x="257.6" y="347.01" width="4.3" height="7.29" fill="#d98fa0" />
<line x1="259.75" y1="346.2" x2="259.75" y2="347.01" stroke="#333" stroke-width="0.6" />
<circle cx="260.17" cy="346.62" r="1.0" fill="#111"/>
<circle cx="260.77" cy="347.04" r="1.0" fill="#111"/>
<circle cx="260.18" cy="347.15" r="1.0" fill="#111"/>
<circle cx="259.57" cy="347.86" r="1.0" fill="#111"/>
<circle cx="260.83" cy="346" r="1.0" fill="#111"/>
<rect x="264.1" y="331.62" width="4.3" height="22.68" fill="#f6951f" />
<line x1="266.25" y1="329.81" x2="266.25" y2="331.62" stroke="#333" stroke-width="0.6" />
<circle cx="265.95" cy="330.47" r="1.0" fill="#111"/>
<circle cx="265.77" cy="331.31" r="1.0" fill="#111"/>
<circle cx="266.24" cy="332.59" r="1.0" fill="#111"/>
<circle cx="267.16" cy="328.18" r="1.0" fill="#111"/>
<circle cx="267.42" cy="329.38" r="1.0" fill="#111"/>
<rect x="270.6" y="321.09" width="4.3" height="33.21" fill="#4e1c5e" />
<line x1="272.75" y1="318.43" x2="272.75" y2="321.09" stroke="#333" stroke-width="0.6" />
<circle cx="271.89" cy="321.92" r="1.0" fill="#111"/>
<circle cx="272.17" cy="321.2" r="1.0" fill="#111"/>
<circle cx="272.53" cy="322.19" r="1.0" fill="#111"/>
<circle cx="272.73" cy="319" r="1.0" fill="#111"/>
<circle cx="273.63" cy="323.33" r="1.0" fill="#111"/>
<line x1="293.3" y1="354.3" x2="293.3" y2="356.9" stroke="#1a1a1a" stroke-width="0.9" />
<text x="293.3" y="367.1" font-size="7.8" text-anchor="middle" stroke="#1a1a1a" stroke-width="0.12">CVX</text>
<rect x="281.4" y="332.7" width="4.3" height="21.6" fill="#9bd3ee" />
<line x1="283.55" y1="330.97" x2="283.55" y2="332.7" stroke="#333" stroke-width="0.6" />
<circle cx="283.43" cy="331.32" r="1.0" fill="#111"/>
<circle cx="282.33" cy="333.79" r="1.0" fill="#111"/>
<circle cx="282.36" cy="331.62" r="1.0" fill="#111"/>
<circle cx="283.73" cy="330.59" r="1.0" fill="#111"/>
<circle cx="284.31" cy="334.22" r="1.0" fill="#111"/>
<rect x="287.9" y="344.04" width="4.3" height="10.26" fill="#d98fa0" />
<line x1="290.05" y1="343.22" x2="290.05" y2="344.04" stroke="#333" stroke-width="0.6" />
<circle cx="289.1" cy="344.63" r="1.0" fill="#111"/>
<circle cx="288.81" cy="344.07" r="1.0" fill="#111"/>
<circle cx="289.37" cy="343.58" r="1.0" fill="#111"/>
<circle cx="288.87" cy="345.48" r="1.0" fill="#111"/>
<circle cx="289.91" cy="343.38" r="1.0" fill="#111"/>
<rect x="294.4" y="342.69" width="4.3" height="11.61" fill="#f6951f" />
<line x1="296.55" y1="341.76" x2="296.55" y2="342.69" stroke="#333" stroke-width="0.6" />
<circle cx="296.95" cy="342.47" r="1.0" fill="#111"/>
<circle cx="297.74" cy="342.21" r="1.0" fill="#111"/>
<circle cx="295.77" cy="342.39" r="1.0" fill="#111"/>
<circle cx="295.71" cy="342.7" r="1.0" fill="#111"/>
<circle cx="296.48" cy="344.96" r="1.0" fill="#111"/>
<rect x="300.9" y="337.29" width="4.3" height="17.01" fill="#4e1c5e" />
<line x1="303.05" y1="335.93" x2="303.05" y2="337.29" stroke="#333" stroke-width="0.6" />
<circle cx="302.22" cy="336.78" r="1.0" fill="#111"/>
<circle cx="302.65" cy="337.73" r="1.0" fill="#111"/>
<circle cx="303.1" cy="336.82" r="1.0" fill="#111"/>
<circle cx="303.72" cy="336.3" r="1.0" fill="#111"/>
<circle cx="303.81" cy="337.88" r="1.0" fill="#111"/>
<line x1="323.6" y1="354.3" x2="323.6" y2="356.9" stroke="#1a1a1a" stroke-width="0.9" />
<text x="323.6" y="367.1" font-size="7.8" text-anchor="middle" stroke="#1a1a1a" stroke-width="0.12">P4P</text>
<rect x="311.7" y="306.78" width="4.3" height="47.52" fill="#9bd3ee" />
<line x1="313.85" y1="302.98" x2="313.85" y2="306.78" stroke="#333" stroke-width="0.6" />
<circle cx="312.78" cy="304.21" r="1.0" fill="#111"/>
<circle cx="314.43" cy="304.05" r="1.0" fill="#111"/>
<circle cx="313.73" cy="308.85" r="1.0" fill="#111"/>
<circle cx="314.92" cy="303.8" r="1.0" fill="#111"/>
<circle cx="314.03" cy="308.76" r="1.0" fill="#111"/>
<rect x="318.2" y="304.62" width="4.3" height="49.68" fill="#d98fa0" />
<line x1="320.35" y1="300.65" x2="320.35" y2="304.62" stroke="#333" stroke-width="0.6" />
<circle cx="321.12" cy="302.1" r="1.0" fill="#111"/>
<circle cx="320.26" cy="301.69" r="1.0" fill="#111"/>
<circle cx="319.58" cy="303.52" r="1.0" fill="#111"/>
<circle cx="321.18" cy="299.49" r="1.0" fill="#111"/>
<circle cx="320.92" cy="301.17" r="1.0" fill="#111"/>
<rect x="324.7" y="304.89" width="4.3" height="49.41" fill="#f6951f" />
<line x1="326.85" y1="300.94" x2="326.85" y2="304.89" stroke="#333" stroke-width="0.6" />
<circle cx="327.89" cy="306.53" r="1.0" fill="#111"/>
<circle cx="328.09" cy="301.75" r="1.0" fill="#111"/>
<circle cx="327.61" cy="304.51" r="1.0" fill="#111"/>
<circle cx="327.92" cy="308.12" r="1.0" fill="#111"/>
<circle cx="326.46" cy="297.01" r="1.0" fill="#111"/>
<rect x="331.2" y="296.25" width="4.3" height="58.05" fill="#4e1c5e" />
<line x1="333.35" y1="291.61" x2="333.35" y2="296.25" stroke="#333" stroke-width="0.6" />
<circle cx="333.2" cy="299.13" r="1.0" fill="#111"/>
<circle cx="334.05" cy="295.71" r="1.0" fill="#111"/>
<circle cx="332.12" cy="296.17" r="1.0" fill="#111"/>
<circle cx="332.22" cy="288.13" r="1.0" fill="#111"/>
<circle cx="332.5" cy="288.36" r="1.0" fill="#111"/>
<line x1="220.1" y1="333.3" x2="233.6" y2="333.3" stroke="#5a5a5a" stroke-width="0.7" />
<circle cx="223.95" cy="330.2" r="0.85" fill="#111"/><circle cx="226.85" cy="330.2" r="0.85" fill="#111"/><circle cx="229.75" cy="330.2" r="0.85" fill="#111"/>
<line x1="235.5" y1="333.3" x2="243" y2="333.3" stroke="#5a5a5a" stroke-width="0.7" />
<circle cx="236.35" cy="330.2" r="0.85" fill="#111"/><circle cx="239.25" cy="330.2" r="0.85" fill="#111"/><circle cx="242.15" cy="330.2" r="0.85" fill="#111"/>
<line x1="221.5" y1="325.8" x2="239.6" y2="325.8" stroke="#5a5a5a" stroke-width="0.7" />
<circle cx="227.65" cy="322.7" r="0.85" fill="#111"/><circle cx="230.55" cy="322.7" r="0.85" fill="#111"/><circle cx="233.45" cy="322.7" r="0.85" fill="#111"/>
<line x1="227" y1="319.3" x2="234.6" y2="319.3" stroke="#5a5a5a" stroke-width="0.7" />
<circle cx="227.9" cy="316.2" r="0.85" fill="#111"/><circle cx="230.8" cy="316.2" r="0.85" fill="#111"/><circle cx="233.7" cy="316.2" r="0.85" fill="#111"/>
<line x1="228" y1="313.1" x2="241.1" y2="313.1" stroke="#5a5a5a" stroke-width="0.7" />
<circle cx="231.65" cy="310" r="0.85" fill="#111"/><circle cx="234.55" cy="310" r="0.85" fill="#111"/><circle cx="237.45" cy="310" r="0.85" fill="#111"/>
<line x1="255.4" y1="316.2" x2="267.9" y2="316.2" stroke="#5a5a5a" stroke-width="0.7" />
<circle cx="261.65" cy="313.1" r="0.85" fill="#111"/>
<line x1="266.9" y1="316.2" x2="274.6" y2="316.2" stroke="#5a5a5a" stroke-width="0.7" />
<circle cx="269.3" cy="313.1" r="0.85" fill="#111"/><circle cx="272.2" cy="313.1" r="0.85" fill="#111"/>
<line x1="255.4" y1="306.2" x2="274.2" y2="306.2" stroke="#5a5a5a" stroke-width="0.7" />
<circle cx="261.9" cy="303.1" r="0.85" fill="#111"/><circle cx="264.8" cy="303.1" r="0.85" fill="#111"/><circle cx="267.7" cy="303.1" r="0.85" fill="#111"/>
<line x1="260.2" y1="299.8" x2="267.9" y2="299.8" stroke="#5a5a5a" stroke-width="0.7" />
<circle cx="261.15" cy="296.7" r="0.85" fill="#111"/><circle cx="264.05" cy="296.7" r="0.85" fill="#111"/><circle cx="266.95" cy="296.7" r="0.85" fill="#111"/>
<line x1="263.1" y1="292.5" x2="275.6" y2="292.5" stroke="#5a5a5a" stroke-width="0.7" />
<circle cx="266.45" cy="289.4" r="0.85" fill="#111"/><circle cx="269.35" cy="289.4" r="0.85" fill="#111"/><circle cx="272.25" cy="289.4" r="0.85" fill="#111"/>
<line x1="283.3" y1="315.6" x2="290.4" y2="315.6" stroke="#5a5a5a" stroke-width="0.7" />
<circle cx="285.4" cy="312.5" r="0.85" fill="#111"/><circle cx="288.3" cy="312.5" r="0.85" fill="#111"/>
<line x1="282.3" y1="307.9" x2="297.3" y2="307.9" stroke="#5a5a5a" stroke-width="0.7" />
<circle cx="289.8" cy="304.8" r="0.85" fill="#111"/>
<text x="452.7" y="242.7" font-size="9.2" text-anchor="middle" textLength="65" lengthAdjust="spacingAndGlyphs" stroke="#1a1a1a" stroke-width="0.08">Activated αIIbβ3</text>
<text x="452.8" y="253.3" font-size="9.2" text-anchor="middle" font-style="italic" textLength="103" lengthAdjust="spacingAndGlyphs" stroke="#1a1a1a" stroke-width="0.08">after storage vs 24 hr after</text>
<text x="452.9" y="263.8" font-size="9.2" text-anchor="middle" font-style="italic" textLength="43.2" lengthAdjust="spacingAndGlyphs" stroke="#1a1a1a" stroke-width="0.08">transfusion</text>
<line x1="391.9" y1="270.2" x2="391.9" y2="354.8" stroke="#1a1a1a" stroke-width="1" />
<line x1="391.4" y1="354.3" x2="513.9" y2="354.3" stroke="#1a1a1a" stroke-width="1" />
<line x1="387.9" y1="354.3" x2="391.9" y2="354.3" stroke="#1a1a1a" stroke-width="0.9" />
<text x="386" y="356.4" font-size="7.49" text-anchor="end" textLength="4.42" lengthAdjust="spacingAndGlyphs" stroke="#1a1a1a" stroke-width="0.12">0</text>
<line x1="387.9" y1="327.3" x2="391.9" y2="327.3" stroke="#1a1a1a" stroke-width="0.9" />
<text x="386" y="329.4" font-size="7.49" text-anchor="end" textLength="13.26" lengthAdjust="spacingAndGlyphs" stroke="#1a1a1a" stroke-width="0.12">500</text>
<line x1="387.9" y1="300.3" x2="391.9" y2="300.3" stroke="#1a1a1a" stroke-width="0.9" />
<text x="386" y="302.4" font-size="7.49" text-anchor="end" textLength="17.68" lengthAdjust="spacingAndGlyphs" stroke="#1a1a1a" stroke-width="0.12">1000</text>
<line x1="387.9" y1="273.3" x2="391.9" y2="273.3" stroke="#1a1a1a" stroke-width="0.9" />
<text x="386" y="275.4" font-size="7.49" text-anchor="end" textLength="17.68" lengthAdjust="spacingAndGlyphs" stroke="#1a1a1a" stroke-width="0.12">1500</text>
<text x="0" y="0" font-size="8.77" text-anchor="middle" textLength="37.6" lengthAdjust="spacingAndGlyphs" transform="translate(362.6 312) rotate(-90)" stroke="#1a1a1a" stroke-width="0.3">JON/A (MFI)</text>
<line x1="407.1" y1="354.3" x2="407.1" y2="356.9" stroke="#1a1a1a" stroke-width="0.9" />
<text x="407.1" y="367.1" font-size="7.8" text-anchor="middle" stroke="#1a1a1a" stroke-width="0.12">BL</text>
<rect x="395.2" y="350.52" width="4.3" height="3.78" fill="#9bd3ee" />
<line x1="397.35" y1="349.71" x2="397.35" y2="350.52" stroke="#333" stroke-width="0.6" />
<circle cx="398.1" cy="350.59" r="1.0" fill="#111"/>
<circle cx="396.44" cy="350.68" r="1.0" fill="#111"/>
<circle cx="397.93" cy="350.5" r="1.0" fill="#111"/>
<circle cx="397.84" cy="349.94" r="1.0" fill="#111"/>
<circle cx="397.33" cy="349.77" r="1.0" fill="#111"/>
<rect x="401.7" y="350.25" width="4.3" height="4.05" fill="#d98fa0" />
<line x1="403.85" y1="349.44" x2="403.85" y2="350.25" stroke="#333" stroke-width="0.6" />
<circle cx="402.77" cy="350.01" r="1.0" fill="#111"/>
<circle cx="403.92" cy="350.38" r="1.0" fill="#111"/>
<circle cx="404.44" cy="350.34" r="1.0" fill="#111"/>
<circle cx="403.91" cy="349.97" r="1.0" fill="#111"/>
<circle cx="404.01" cy="349.62" r="1.0" fill="#111"/>
<rect x="408.2" y="335.94" width="4.3" height="18.36" fill="#f6951f" />
<line x1="410.35" y1="334.47" x2="410.35" y2="335.94" stroke="#333" stroke-width="0.6" />
<circle cx="410.04" cy="336.32" r="1.0" fill="#111"/>
<circle cx="411.39" cy="335.09" r="1.0" fill="#111"/>
<circle cx="411.26" cy="336.56" r="1.0" fill="#111"/>
<circle cx="410.41" cy="332.14" r="1.0" fill="#111"/>
<circle cx="409.57" cy="335.19" r="1.0" fill="#111"/>
<rect x="414.7" y="339.72" width="4.3" height="14.58" fill="#4e1c5e" />
<line x1="416.85" y1="338.55" x2="416.85" y2="339.72" stroke="#333" stroke-width="0.6" />
<circle cx="416.86" cy="339.61" r="1.0" fill="#111"/>
<circle cx="415.62" cy="339.48" r="1.0" fill="#111"/>
<circle cx="416.89" cy="338.81" r="1.0" fill="#111"/>
<circle cx="417.63" cy="340.18" r="1.0" fill="#111"/>
<circle cx="416.83" cy="339.19" r="1.0" fill="#111"/>
<line x1="437.4" y1="354.3" x2="437.4" y2="356.9" stroke="#1a1a1a" stroke-width="0.9" />
<text x="437.4" y="367.1" font-size="7.8" text-anchor="middle" stroke="#1a1a1a" stroke-width="0.12">ADP</text>
<rect x="425.5" y="341.34" width="4.3" height="12.96" fill="#9bd3ee" />
<line x1="427.65" y1="340.3" x2="427.65" y2="341.34" stroke="#333" stroke-width="0.6" />
<circle cx="426.52" cy="340.99" r="1.0" fill="#111"/>
<circle cx="427.43" cy="341.24" r="1.0" fill="#111"/>
<circle cx="428.75" cy="340.56" r="1.0" fill="#111"/>
<circle cx="427.58" cy="342.47" r="1.0" fill="#111"/>
<circle cx="427.48" cy="343.24" r="1.0" fill="#111"/>
<rect x="432" y="346.47" width="4.3" height="7.83" fill="#d98fa0" />
<line x1="434.15" y1="345.66" x2="434.15" y2="346.47" stroke="#333" stroke-width="0.6" />
<circle cx="435.19" cy="346.14" r="1.0" fill="#111"/>
<circle cx="433.67" cy="346.47" r="1.0" fill="#111"/>
<circle cx="434.46" cy="346.75" r="1.0" fill="#111"/>
<circle cx="433.19" cy="344.99" r="1.0" fill="#111"/>
<circle cx="432.91" cy="345.47" r="1.0" fill="#111"/>
<rect x="438.5" y="330.54" width="4.3" height="23.76" fill="#f6951f" />
<line x1="440.65" y1="328.64" x2="440.65" y2="330.54" stroke="#333" stroke-width="0.6" />
<circle cx="439.94" cy="331.38" r="1.0" fill="#111"/>
<circle cx="440.19" cy="329.91" r="1.0" fill="#111"/>
<circle cx="440.96" cy="330.9" r="1.0" fill="#111"/>
<circle cx="441.25" cy="334.25" r="1.0" fill="#111"/>
<circle cx="440.68" cy="334.07" r="1.0" fill="#111"/>
<rect x="445" y="327.3" width="4.3" height="27" fill="#4e1c5e" />
<line x1="447.15" y1="325.14" x2="447.15" y2="327.3" stroke="#333" stroke-width="0.6" />
<circle cx="446.36" cy="328.07" r="1.0" fill="#111"/>
<circle cx="446.99" cy="327.12" r="1.0" fill="#111"/>
<circle cx="446.92" cy="327.64" r="1.0" fill="#111"/>
<circle cx="446.27" cy="326.7" r="1.0" fill="#111"/>
<circle cx="447.49" cy="330.38" r="1.0" fill="#111"/>
<line x1="467.7" y1="354.3" x2="467.7" y2="356.9" stroke="#1a1a1a" stroke-width="0.9" />
<text x="467.7" y="367.1" font-size="7.8" text-anchor="middle" stroke="#1a1a1a" stroke-width="0.12">CVX</text>
<rect x="455.8" y="332.7" width="4.3" height="21.6" fill="#9bd3ee" />
<line x1="457.95" y1="330.97" x2="457.95" y2="332.7" stroke="#333" stroke-width="0.6" />
<circle cx="458.03" cy="332.26" r="1.0" fill="#111"/>
<circle cx="458.24" cy="331.68" r="1.0" fill="#111"/>
<circle cx="457.25" cy="331.66" r="1.0" fill="#111"/>
<circle cx="458.76" cy="330.3" r="1.0" fill="#111"/>
<circle cx="457.47" cy="328.83" r="1.0" fill="#111"/>
<rect x="462.3" y="344.85" width="4.3" height="9.45" fill="#d98fa0" />
<line x1="464.45" y1="344.04" x2="464.45" y2="344.85" stroke="#333" stroke-width="0.6" />
<circle cx="465.55" cy="345.04" r="1.0" fill="#111"/>
<circle cx="465.75" cy="345.16" r="1.0" fill="#111"/>
<circle cx="463.5" cy="344.36" r="1.0" fill="#111"/>
<circle cx="465.04" cy="345.79" r="1.0" fill="#111"/>
<circle cx="463.4" cy="345.71" r="1.0" fill="#111"/>
<rect x="468.8" y="337.29" width="4.3" height="17.01" fill="#f6951f" />
<line x1="470.95" y1="335.93" x2="470.95" y2="337.29" stroke="#333" stroke-width="0.6" />
<circle cx="470.75" cy="336.53" r="1.0" fill="#111"/>
<circle cx="469.98" cy="336.62" r="1.0" fill="#111"/>
<circle cx="471.43" cy="337.45" r="1.0" fill="#111"/>
<circle cx="470.17" cy="340.57" r="1.0" fill="#111"/>
<circle cx="472.02" cy="335.82" r="1.0" fill="#111"/>
<rect x="475.3" y="341.34" width="4.3" height="12.96" fill="#4e1c5e" />
<line x1="477.45" y1="340.3" x2="477.45" y2="341.34" stroke="#333" stroke-width="0.6" />
<circle cx="476.45" cy="340.54" r="1.0" fill="#111"/>
<circle cx="478.12" cy="341.29" r="1.0" fill="#111"/>
<circle cx="477.93" cy="341.3" r="1.0" fill="#111"/>
<circle cx="476.33" cy="342.9" r="1.0" fill="#111"/>
<circle cx="476.25" cy="343.35" r="1.0" fill="#111"/>
<line x1="498" y1="354.3" x2="498" y2="356.9" stroke="#1a1a1a" stroke-width="0.9" />
<text x="498" y="367.1" font-size="7.8" text-anchor="middle" stroke="#1a1a1a" stroke-width="0.12">P4P</text>
<rect x="486.1" y="307.32" width="4.3" height="46.98" fill="#9bd3ee" />
<line x1="488.25" y1="303.56" x2="488.25" y2="307.32" stroke="#333" stroke-width="0.6" />
<circle cx="488.29" cy="306.87" r="1.0" fill="#111"/>
<circle cx="487.33" cy="306.77" r="1.0" fill="#111"/>
<circle cx="487.48" cy="309.05" r="1.0" fill="#111"/>
<circle cx="489.52" cy="300.14" r="1.0" fill="#111"/>
<circle cx="487.2" cy="298.43" r="1.0" fill="#111"/>
<rect x="492.6" y="305.16" width="4.3" height="49.14" fill="#d98fa0" />
<line x1="494.75" y1="301.23" x2="494.75" y2="305.16" stroke="#333" stroke-width="0.6" />
<circle cx="495.92" cy="307.72" r="1.0" fill="#111"/>
<circle cx="495.44" cy="305.25" r="1.0" fill="#111"/>
<circle cx="494.66" cy="306.08" r="1.0" fill="#111"/>
<circle cx="494.57" cy="304.35" r="1.0" fill="#111"/>
<circle cx="493.48" cy="302.59" r="1.0" fill="#111"/>
<rect x="499.1" y="319.74" width="4.3" height="34.56" fill="#f6951f" />
<line x1="501.25" y1="316.98" x2="501.25" y2="319.74" stroke="#333" stroke-width="0.6" />
<circle cx="502.15" cy="318.76" r="1.0" fill="#111"/>
<circle cx="501.13" cy="321.02" r="1.0" fill="#111"/>
<circle cx="501" cy="318.59" r="1.0" fill="#111"/>
<circle cx="500.38" cy="323.82" r="1.0" fill="#111"/>
<circle cx="499.99" cy="319.21" r="1.0" fill="#111"/>
<rect x="505.6" y="314.34" width="4.3" height="39.96" fill="#4e1c5e" />
<line x1="507.75" y1="311.14" x2="507.75" y2="314.34" stroke="#333" stroke-width="0.6" />
<circle cx="508.53" cy="312.24" r="1.0" fill="#111"/>
<circle cx="508.69" cy="313.19" r="1.0" fill="#111"/>
<circle cx="507.5" cy="313.57" r="1.0" fill="#111"/>
<circle cx="507.76" cy="312.27" r="1.0" fill="#111"/>
<circle cx="508.54" cy="305.84" r="1.0" fill="#111"/>
<line x1="397.1" y1="310.4" x2="411.4" y2="310.4" stroke="#5a5a5a" stroke-width="0.7" />
<circle cx="402.8" cy="307.3" r="0.85" fill="#111"/><circle cx="405.7" cy="307.3" r="0.85" fill="#111"/>
<line x1="403.7" y1="316.8" x2="409" y2="316.8" stroke="#5a5a5a" stroke-width="0.7" />
<circle cx="406.35" cy="313.7" r="0.85" fill="#111"/>
<line x1="426" y1="319.5" x2="439.3" y2="319.5" stroke="#5a5a5a" stroke-width="0.7" />
<circle cx="432.65" cy="316.4" r="0.85" fill="#111"/>
<line x1="426.9" y1="313.3" x2="445.6" y2="313.3" stroke="#5a5a5a" stroke-width="0.7" />
<circle cx="434.8" cy="310.2" r="0.85" fill="#111"/><circle cx="437.7" cy="310.2" r="0.85" fill="#111"/>
<line x1="433.5" y1="306.2" x2="440.2" y2="306.2" stroke="#5a5a5a" stroke-width="0.7" />
<circle cx="433.95" cy="303.1" r="0.85" fill="#111"/><circle cx="436.85" cy="303.1" r="0.85" fill="#111"/><circle cx="439.75" cy="303.1" r="0.85" fill="#111"/>
<line x1="433.1" y1="299.4" x2="446.5" y2="299.4" stroke="#5a5a5a" stroke-width="0.7" />
<circle cx="436.9" cy="296.3" r="0.85" fill="#111"/><circle cx="439.8" cy="296.3" r="0.85" fill="#111"/><circle cx="442.7" cy="296.3" r="0.85" fill="#111"/>
<line x1="457.5" y1="313.1" x2="465" y2="313.1" stroke="#5a5a5a" stroke-width="0.7" />
<circle cx="461.25" cy="310" r="0.85" fill="#111"/>
<line x1="493.5" y1="296.7" x2="500.6" y2="296.7" stroke="#5a5a5a" stroke-width="0.7" />
<circle cx="497.05" cy="293.6" r="0.85" fill="#111"/>
<line x1="48.1" y1="398" x2="48.1" y2="420.2" stroke="#1a1a1a" stroke-width="1" />
<line x1="48.1" y1="423.2" x2="48.1" y2="486.5" stroke="#1a1a1a" stroke-width="1" />
<path d="M46.4 421.6L49.6 419.8M46.4 424.4L49.6 422.6" fill="none" stroke="#1a1a1a" stroke-width="0.8" />
<line x1="47.6" y1="486" x2="133.6" y2="486" stroke="#1a1a1a" stroke-width="1" />
<line x1="45.1" y1="401.8" x2="48.1" y2="401.8" stroke="#1a1a1a" stroke-width="0.9" />
<text x="42.3" y="404.3" font-size="7.92" text-anchor="end" textLength="21.5" lengthAdjust="spacingAndGlyphs" stroke="#1a1a1a" stroke-width="0.12">15000</text>
<line x1="45.1" y1="410.6" x2="48.1" y2="410.6" stroke="#1a1a1a" stroke-width="0.9" />
<text x="42.3" y="413.1" font-size="7.92" text-anchor="end" textLength="21.5" lengthAdjust="spacingAndGlyphs" stroke="#1a1a1a" stroke-width="0.12">10000</text>
<line x1="45.1" y1="421.7" x2="48.1" y2="421.7" stroke="#1a1a1a" stroke-width="0.9" />
<text x="42.3" y="424.2" font-size="7.92" text-anchor="end" textLength="17.2" lengthAdjust="spacingAndGlyphs" stroke="#1a1a1a" stroke-width="0.12">5000</text>
<line x1="45.1" y1="436.7" x2="48.1" y2="436.7" stroke="#1a1a1a" stroke-width="0.9" />
<text x="42.3" y="439.2" font-size="7.92" text-anchor="end" textLength="17.2" lengthAdjust="spacingAndGlyphs" stroke="#1a1a1a" stroke-width="0.12">4000</text>
<line x1="45.1" y1="451.9" x2="48.1" y2="451.9" stroke="#1a1a1a" stroke-width="0.9" />
<text x="42.3" y="454.4" font-size="7.92" text-anchor="end" textLength="17.2" lengthAdjust="spacingAndGlyphs" stroke="#1a1a1a" stroke-width="0.12">3000</text>
<line x1="45.1" y1="467.1" x2="48.1" y2="467.1" stroke="#1a1a1a" stroke-width="0.9" />
<text x="42.3" y="469.6" font-size="7.92" text-anchor="end" textLength="17.2" lengthAdjust="spacingAndGlyphs" stroke="#1a1a1a" stroke-width="0.12">2000</text>
<line x1="45.1" y1="482.3" x2="48.1" y2="482.3" stroke="#1a1a1a" stroke-width="0.9" />
<text x="42.3" y="484.8" font-size="7.92" text-anchor="end" textLength="17.2" lengthAdjust="spacingAndGlyphs" stroke="#1a1a1a" stroke-width="0.12">1000</text>
<line x1="48.1" y1="486" x2="48.1" y2="488.8" stroke="#1a1a1a" stroke-width="0.9" />
<text x="48.1" y="498.8" font-size="8" text-anchor="middle" stroke="#1a1a1a" stroke-width="0.12">0</text>
<line x1="75.8" y1="486" x2="75.8" y2="488.8" stroke="#1a1a1a" stroke-width="0.9" />
<text x="75.8" y="498.8" font-size="8" text-anchor="middle" stroke="#1a1a1a" stroke-width="0.12">1</text>
<line x1="103.5" y1="486" x2="103.5" y2="488.8" stroke="#1a1a1a" stroke-width="0.9" />
<text x="103.5" y="498.8" font-size="8" text-anchor="middle" stroke="#1a1a1a" stroke-width="0.12">2</text>
<line x1="131.2" y1="486" x2="131.2" y2="488.8" stroke="#1a1a1a" stroke-width="0.9" />
<text x="131.2" y="498.8" font-size="8" text-anchor="middle" stroke="#1a1a1a" stroke-width="0.12">3</text>
<text x="91" y="510.6" font-size="8.99" text-anchor="middle" textLength="32.3" lengthAdjust="spacingAndGlyphs" stroke="#1a1a1a" stroke-width="0.2">Time (min)</text>
<text x="0" y="0" font-size="9.42" text-anchor="middle" textLength="39.2" lengthAdjust="spacingAndGlyphs" transform="translate(14.9 441.8) rotate(-90)" stroke="#1a1a1a" stroke-width="0.3">Platelet (MFI)</text>
<path d="M48.1 477.69L48.9 478.26L49.7 478.99L50.5 478.33L51.3 478.49L52.1 479.24L52.9 478.92L53.7 478.55L54.5 478.41L55.3 478.14L56.1 478.17L56.9 478.01L57.7 477.19L58.5 477.61L59.3 476.86L60.1 475.79L60.9 472.52L61.7 470.24L62.5 469.87L63.3 468.1L64.1 468.19L64.9 466.81L65.7 465.7L66.5 464.54L67.3 463.84L68.1 462.99L68.9 462.22L69.7 461.03L70.5 460.28L71.3 459.36L72.1 458.16L72.9 457.35L73.7 455.74L74.5 455.46L75.3 453.59L76.1 453.04L76.9 452.12L77.7 452.08L78.5 451.03L79.3 450.42L80.1 449.91L80.9 448.93L81.7 448.16L82.5 447.98L83.3 446.97L84.1 446.93L84.9 445.72L85.7 445.71L86.5 446.09L87.3 445.25L88.1 445.16L88.9 444.74L89.7 444.89L90.5 443.95L91.3 443.37L92.1 443.91L92.9 443.05L93.7 442.54L94.5 441.72L95.3 442.13L96.1 441.83L96.9 441.64L97.7 441.51L98.5 440.53L99.3 441.15L100.1 440.49L100.9 440.78L101.7 440.39L102.5 440.28L103.3 440.08L104.1 440.63L104.9 440.38L105.7 440.07L106.5 440.66L107.3 439.92L108.1 440.54L108.9 440.09L109.7 440.7L110.5 440.75L111.3 440.17L112.1 440.87L112.9 440.12L113.7 440.53L114.5 440.9L115.3 440.19L116.1 440.98L116.9 441.02L117.7 440.25L118.5 441.18L119.3 440.78L120.1 441.01L120.9 441.75L121.7 440.8L122.5 441.99L123.3 441.6L124.1 442.32L124.9 442.14L125.7 442.09L126.5 441.69L127.3 441.66L128.1 442.13L128.9 442.44L129.7 442.6L130.5 442.67L130.5 459.04L129.7 458.75L128.9 457.93L128.1 458.17L127.3 457.87L126.5 458.15L125.7 458.32L124.9 458.65L124.1 457.87L123.3 458.62L122.5 458.52L121.7 458.32L120.9 457.24L120.1 457.4L119.3 457.27L118.5 456.95L117.7 456.85L116.9 456.87L116.1 457.18L115.3 456.71L114.5 457.34L113.7 456.52L112.9 456.39L112.1 456.75L111.3 456.95L110.5 456.33L109.7 456.63L108.9 456.5L108.1 456.22L107.3 456.62L106.5 456.39L105.7 456.37L104.9 456.98L104.1 456.13L103.3 456.57L102.5 456.95L101.7 456.73L100.9 456.85L100.1 457.13L99.3 457.9L98.5 456.97L97.7 457.95L96.9 457.64L96.1 457.84L95.3 457.38L94.5 458.11L93.7 458.16L92.9 457.56L92.1 458.26L91.3 458.08L90.5 458.67L89.7 458.48L88.9 458.67L88.1 458.7L87.3 458.66L86.5 458.55L85.7 459.3L84.9 459.27L84.1 458.69L83.3 459.26L82.5 459.08L81.7 459.4L80.9 460.78L80.1 461.03L79.3 460.7L78.5 460.83L77.7 461.3L76.9 462.65L76.1 462.43L75.3 463.83L74.5 464.66L73.7 464.16L72.9 465.38L72.1 465.55L71.3 466.61L70.5 467.71L69.7 467.37L68.9 468.99L68.1 469.55L67.3 470.14L66.5 470.39L65.7 470.78L64.9 471.3L64.1 472.09L63.3 472.38L62.5 472.78L61.7 474.32L60.9 476.15L60.1 479.04L59.3 480.05L58.5 480.13L57.7 479.87L56.9 480.81L56.1 480.44L55.3 481.41L54.5 481.69L53.7 480.96L52.9 481.49L52.1 481.61L51.3 481.46L50.5 482.32L49.7 481.32L48.9 481.55L48.1 481.05Z" fill="#9ccae8" stroke="none" stroke-width="1" />
<path d="M48.1 482.99L48.9 483.02L49.7 483.2L50.5 482.34L51.3 482.51L52.1 483.24L52.9 482.73L53.7 482.17L54.5 481.84L55.3 481.38L56.1 481.23L56.9 480.96L57.7 480.05L58.5 480.35L59.3 479.8L60.1 479.43L60.9 478.67L61.7 478.34L62.5 478.48L63.3 477.2L64.1 477.81L64.9 477.01L65.7 476.45L66.5 475.84L67.3 475.7L68.1 475.39L68.9 475.18L69.7 474.53L70.5 474.39L71.3 474.1L72.1 473.53L72.9 473.33L73.7 472.33L74.5 472.68L75.3 471.42L76.1 471.46L76.9 470.96L77.7 471.28L78.5 470.59L79.3 470.35L80.1 470.17L80.9 469.34L81.7 468.73L82.5 468.77L83.3 468.02L84.1 468.25L84.9 467.3L85.7 467.36L86.5 467.8L87.3 467L88.1 466.96L88.9 466.59L89.7 466.78L90.5 465.92L91.3 465.45L92.1 466.11L92.9 465.37L93.7 464.98L94.5 464.27L95.3 464.78L96.1 464.55L96.9 464.48L97.7 464.39L98.5 463.43L99.3 464.09L100.1 463.45L100.9 463.72L101.7 463.32L102.5 463.19L103.3 462.98L104.1 463.49L104.9 463.2L105.7 462.84L106.5 463.38L107.3 462.6L108.1 463.16L108.9 462.66L109.7 463.23L110.5 463.21L111.3 462.54L112.1 463.16L112.9 462.32L113.7 462.64L114.5 462.93L115.3 462.14L116.1 462.84L116.9 462.8L117.7 461.96L118.5 462.78L119.3 462.27L120.1 462.38L120.9 463.01L121.7 461.94L122.5 463.01L123.3 462.51L124.1 463.12L124.9 462.9L125.7 462.8L126.5 462.35L127.3 462.28L128.1 462.71L128.9 462.97L129.7 463.09L130.5 463.11L130.5 470.24L129.7 469.95L128.9 469.12L128.1 469.37L127.3 469.06L126.5 469.34L125.7 469.51L124.9 469.85L124.1 469.06L123.3 469.87L122.5 469.84L121.7 469.72L120.9 468.7L120.1 468.93L119.3 468.87L118.5 468.62L117.7 468.57L116.9 468.62L116.1 468.97L115.3 468.53L114.5 469.2L113.7 468.42L112.9 468.34L112.1 468.73L111.3 468.97L110.5 468.39L109.7 468.71L108.9 468.59L108.1 468.31L107.3 468.71L106.5 468.48L105.7 468.46L104.9 469.08L104.1 468.23L103.3 468.66L102.5 469.01L101.7 468.75L100.9 468.85L100.1 469.1L99.3 469.79L98.5 468.79L97.7 469.69L96.9 469.31L96.1 469.53L95.3 469.22L94.5 470.07L93.7 470.21L92.9 469.71L92.1 470.5L91.3 470.42L90.5 471.11L89.7 471.06L88.9 471.42L88.1 471.61L87.3 471.74L86.5 471.79L85.7 472.71L84.9 472.82L84.1 472.19L83.3 472.71L82.5 472.48L81.7 472.79L80.9 474.23L80.1 474.53L79.3 474.08L78.5 474.07L77.7 474.39L76.9 475.59L76.1 475.17L75.3 476.24L74.5 476.76L73.7 475.95L72.9 476.85L72.1 476.71L71.3 477.44L70.5 478.21L69.7 477.57L68.9 478.94L68.1 479.24L67.3 479.59L66.5 479.58L65.7 479.72L64.9 479.99L64.1 480.49L63.3 480.57L62.5 480.77L61.7 482.12L60.9 482.29L60.1 482.77L59.3 483.04L58.5 482.88L57.7 482.68L56.9 483.67L56.1 483.36L55.3 484.46L54.5 484.89L53.7 484.3L52.9 484.97L52.1 485.24L51.3 485.06L50.5 485.87L49.7 485.02L48.9 485.75L48.1 485.75Z" fill="#f6b8c4" stroke="none" stroke-width="1" />
<path d="M57 421L53 430L50.2 444L48.6 458L48.1 470L48.1 479L50 478L53 468L57 458L61.6 444L63 435L64.5 422.5Z" fill="#b9b9b9" stroke="none" stroke-width="1" />
<path d="M61.6 415.89L62.4 415.66L63.2 415.59L64 414.47L64.8 414.38L65.6 414.89L66.4 414.29L67.2 413.64L68 413.21L68.8 412.65L69.6 412.41L70.4 412.09L71.2 411.12L72 411.29L72.8 410.47L73.6 409.81L74.4 408.78L75.2 408.18L76 408.05L76.8 406.59L77.6 407.02L78.4 406.04L79.2 405.32L80 404.56L80.8 404.27L81.6 403.94L82.4 403.72L83.2 403.07L84 402.87L84.8 402.49L85.6 402.01L86.4 401.95L87.2 401.09L88 401.57L88.8 400.46L89.6 400.64L90.4 400.33L91.2 400.93L92 400.53L92.8 400.56L93.6 400.66L94.4 400.11L95.2 399.78L96 400.04L96.8 399.46L97.6 399.91L98.4 399.2L99.2 399.5L100 400.18L100.8 399.63L101.6 399.82L102.4 399.69L103.2 400.14L104 399.59L104.8 399.41L105.6 400.36L106.4 399.9L107.2 399.8L108 399.38L108.8 400.17L109.6 400.22L110.4 400.36L111.2 400.47L112 399.73L112.8 400.6L113.6 400.17L114.4 400.66L115.2 400.47L116 400.56L116.8 400.56L117.6 401.21L118.4 401.05L119.2 400.83L120 401.51L120.8 400.86L121.6 401.57L122.4 401.21L123.2 401.91L124 402.03L124.8 401.47L125.6 402.2L126.4 401.47L127.2 401.9L128 402.3L128.8 401.62L129.6 402.44L130.4 402.5L131.2 401.76L131.2 406.75L130.4 406.75L129.6 407.04L128.8 406.53L128 407.14L127.2 406.3L126.4 406.15L125.6 406.47L124.8 406.65L124 406L123.2 406.24L122.4 406.02L121.6 405.65L120.8 405.96L120 405.63L119.2 405.53L118.4 406.05L117.6 405.11L116.8 405.45L116 405.63L115.2 405.21L114.4 405.14L113.6 405.22L112.8 405.74L112 404.58L111.2 405.31L110.4 404.76L109.6 404.83L108.8 404.29L108 404.9L107.2 404.8L106.4 404.06L105.6 404.61L104.8 404.29L104 404.74L103.2 404.42L102.4 404.56L101.6 404.56L100.8 404.5L100 404.35L99.2 405.08L98.4 404.99L97.6 404.17L96.8 404.51L96 404.16L95.2 404.3L94.4 405.5L93.6 405.58L92.8 404.89L92 404.64L91.2 404.74L90.4 405.7L89.6 405.13L88.8 406.11L88 406.54L87.2 405.63L86.4 406.44L85.6 406.2L84.8 406.89L84 407.79L83.2 407.26L82.4 408.68L81.6 409.04L80.8 409.46L80 409.64L79.2 409.98L78.4 410.45L77.6 411.18L76.8 411.49L76 411.92L75.2 413.57L74.4 414.06L73.6 414.86L72.8 415.46L72 415.62L71.2 415.6L70.4 416.69L69.6 416.48L68.8 417.72L68 418.29L67.2 417.85L66.4 418.66L65.6 419.06L64.8 419.15L64 420.26L63.2 419.71L62.4 420.74L61.6 421.05Z" fill="#b9b9b9" stroke="none" stroke-width="1" />
<path d="M61.6 418.69L62.4 418.39L63.2 418.04L64 417.76L64.8 417.24L65.6 416.99L66.4 415.96L67.2 415.84L68 415.76L68.8 415.13L69.6 414.89L70.4 413.91L71.2 413.74L72 413.08L72.8 412.64L73.6 412.01L74.4 410.96L75.2 410.45L76 409.85L76.8 409.72L77.6 409.04L78.4 408.05L79.2 407.92L80 406.89L80.8 406.65L81.6 405.86L82.4 405.35L83.2 405.53L84 404.63L84.8 404.21L85.6 404.49L86.4 404.21L87.2 403.6L88 403.87L88.8 403.38L89.6 403.27L90.4 402.77L91.2 403.19L92 402.92L92.8 403.02L93.6 402.88L94.4 402.37L95.2 402.31L96 402.08L96.8 401.98L97.6 401.88L98.4 402.01L99.2 402.2L100 401.75L100.8 402.2L101.6 401.93L102.4 401.89L103.2 402.24L104 402.06L104.8 402L105.6 402.17L106.4 402.39L107.2 401.99L108 402.69L108.8 402.08L109.6 402.65L110.4 402.78L111.2 402.29L112 402.91L112.8 402.69L113.6 402.92L114.4 402.61L115.2 402.72L116 402.89L116.8 403.52L117.6 403.07L118.4 403.55L119.2 403.76L120 403.86L120.8 403.53L121.6 403.63L122.4 403.84L123.2 404.1L124 403.73L124.8 404.24L125.6 404.34L126.4 404.45L127.2 403.94L128 404.65L128.8 404.11L129.6 404.36L130.4 404.61L131.2 404.89" fill="none" stroke="#5a5a5a" stroke-width="1.3" stroke-linejoin="round"/>
<path d="M48.1 475.23L48.6 470.26L49.1 466.24L49.6 463.14L50.1 460.2L50.6 458.73L51.1 456.58L51.6 454.65L52.1 451.57L52.6 449.11L53.1 445.93L53.6 444.13L54.1 442.22L54.6 440.12L55.1 438.36L55.6 436.63L56.1 434.45L56.6 433.24L57.1 431.94L57.6 430.01L58.1 429.01L58.6 427.74L59.1 426.69L59.6 425.1L60.1 423.69L60.6 423.02" fill="none" stroke="#5a5a5a" stroke-width="1" stroke-linejoin="round"/>
<path d="M48.1 484.39L48.9 484.19L49.7 484.39L50.5 483.94L51.3 484.11L52.1 483.88L52.9 483.4L53.7 483.37L54.5 482.78L55.3 482.72L56.1 482.2L56.9 481.86L57.7 481.72L58.5 481.61L59.3 480.84L60.1 480.55L60.9 480.44L61.7 480.27L62.5 479.68L63.3 479.21L64.1 479.19L64.9 478.27L65.7 478.37L66.5 477.62L67.3 477.14L68.1 476.72L68.9 476.44L69.7 476.34L70.5 475.61L71.3 475.53L72.1 475.25L72.9 474.77L73.7 474.56L74.5 473.95L75.3 473.63L76.1 473.4L76.9 473.35L77.7 472.84L78.5 472.42L79.3 472.24L80.1 471.81L80.9 471.36L81.7 471.31L82.5 470.97L83.3 470.45L84.1 470.4L84.9 470.13L85.7 470.1L86.5 469.77L87.3 469.26L88.1 469.43L88.9 468.67L89.7 468.6L90.5 468.58L91.3 468.01L92.1 468L92.9 467.53L93.7 467.7L94.5 467.55L95.3 467.22L96.1 467.21L96.9 466.77L97.7 466.89L98.5 466.72L99.3 466.6L100.1 466.42L100.9 466.54L101.7 466.5L102.5 466.11L103.3 466.11L104.1 465.72L104.9 466.08L105.7 466.02L106.5 466.2L107.3 466.07L108.1 465.73L108.9 465.76L109.7 465.91L110.5 465.5L111.3 465.74L112.1 465.54L112.9 465.49L113.7 465.44L114.5 465.84L115.3 465.44L116.1 465.49L116.9 465.55L117.7 465.84L118.5 465.41L119.3 465.68L120.1 465.79L120.9 466.04L121.7 466.05L122.5 466.13L123.3 465.82L124.1 465.95L124.9 465.94L125.7 466.28L126.5 466.34L127.3 465.88L128.1 465.92L128.9 465.98L129.7 466L130.5 466.17" fill="none" stroke="#d42042" stroke-width="1.1" stroke-linejoin="round"/>
<path d="M48.1 479.23L48.9 480.38L49.7 479.97L50.5 480.62L51.3 479.87L52.1 479.9L52.9 480.52L53.7 479.59L54.5 479.89L55.3 479.58L56.1 479.42L56.9 479.19L57.7 478.63L58.5 479L59.3 477.69L60.1 476.77L60.9 473.73L61.7 471.82L62.5 471.25L63.3 471.03L64.1 469.78L64.9 468.71L65.7 468.06L66.5 467.99L67.3 466.26L68.1 466.02L68.9 464.98L69.7 464.46L70.5 463.34L71.3 462.89L72.1 461.9L72.9 461.27L73.7 460.74L74.5 459.64L75.3 458.42L76.1 457.56L76.9 457.79L77.7 456.73L78.5 455.83L79.3 455.98L80.1 455.03L80.9 454.78L81.7 454.53L82.5 453.54L83.3 453.21L84.1 453.33L84.9 452.18L85.7 452.6L86.5 451.75L87.3 452.16L88.1 451.99L88.9 452.05L89.7 451.76L90.5 451.22L91.3 450.7L92.1 450.44L92.9 450.6L93.7 450.36L94.5 449.71L95.3 450.34L96.1 449.79L96.9 449.82L97.7 449.18L98.5 449.04L99.3 448.65L100.1 448.83L100.9 448.63L101.7 448.67L102.5 448.51L103.3 448.85L104.1 448.89L104.9 448.18L105.7 448.4L106.5 448.17L107.3 448.66L108.1 448.97L108.9 448.2L109.7 448.77L110.5 448.33L111.3 448.08L112.1 448.87L112.9 448.49L113.7 448.36L114.5 448.67L115.3 448.5L116.1 448.72L116.9 448.8L117.7 448.81L118.5 449.11L119.3 448.95L120.1 448.9L120.9 449.04L121.7 449.2L122.5 449.75L123.3 449.74L124.1 450.31L124.9 450.05L125.7 450.3L126.5 450.62L127.3 449.75L128.1 449.74L128.9 449.91L129.7 450.2L130.5 450.43" fill="none" stroke="#1d5f99" stroke-width="1.3" stroke-linejoin="round"/>
<line x1="61.95" y1="471.83" x2="61.95" y2="479.89" stroke="#333" stroke-width="0.6" />
<line x1="75.8" y1="458.29" x2="75.8" y2="473.7" stroke="#333" stroke-width="0.6" />
<line x1="89.65" y1="451.43" x2="89.65" y2="468.67" stroke="#333" stroke-width="0.6" />
<line x1="103.5" y1="448.5" x2="103.5" y2="466" stroke="#333" stroke-width="0.6" />
<line x1="117.35" y1="448.88" x2="117.35" y2="465.6" stroke="#333" stroke-width="0.6" />
<line x1="131.2" y1="450.4" x2="131.2" y2="466.2" stroke="#333" stroke-width="0.6" />
<circle cx="61" cy="465.3" r="0.95" fill="#111"/>
<circle cx="75.8" cy="449.6" r="0.95" fill="#111"/>
<circle cx="89.2" cy="439.8" r="0.95" fill="#111"/>
<circle cx="104.5" cy="435.8" r="0.95" fill="#111"/>
<text x="119.2" y="438.6" font-size="8" text-anchor="middle" stroke="#1a1a1a" stroke-width="0.12">ns</text>
<text x="130.4" y="438.6" font-size="8" text-anchor="middle" stroke="#1a1a1a" stroke-width="0.12">ns</text>
<line x1="187.2" y1="398.2" x2="187.2" y2="486.5" stroke="#1a1a1a" stroke-width="1" />
<line x1="186.7" y1="486" x2="270.5" y2="486" stroke="#1a1a1a" stroke-width="1" />
<line x1="184.2" y1="486.1" x2="187.2" y2="486.1" stroke="#1a1a1a" stroke-width="0.9" />
<text x="180.7" y="488.5" font-size="7.6" text-anchor="end" stroke="#1a1a1a" stroke-width="0.12">0</text>
<line x1="184.2" y1="468.9" x2="187.2" y2="468.9" stroke="#1a1a1a" stroke-width="0.9" />
<text x="180.7" y="471.3" font-size="8.13" text-anchor="end" textLength="17.6" lengthAdjust="spacingAndGlyphs" stroke="#1a1a1a" stroke-width="0.12">1000</text>
<line x1="184.2" y1="451.7" x2="187.2" y2="451.7" stroke="#1a1a1a" stroke-width="0.9" />
<text x="180.7" y="454.1" font-size="8.13" text-anchor="end" textLength="17.6" lengthAdjust="spacingAndGlyphs" stroke="#1a1a1a" stroke-width="0.12">2000</text>
<line x1="184.2" y1="434.5" x2="187.2" y2="434.5" stroke="#1a1a1a" stroke-width="0.9" />
<text x="180.7" y="436.9" font-size="8.13" text-anchor="end" textLength="17.6" lengthAdjust="spacingAndGlyphs" stroke="#1a1a1a" stroke-width="0.12">3000</text>
<line x1="184.2" y1="417.3" x2="187.2" y2="417.3" stroke="#1a1a1a" stroke-width="0.9" />
<text x="180.7" y="419.7" font-size="8.13" text-anchor="end" textLength="17.6" lengthAdjust="spacingAndGlyphs" stroke="#1a1a1a" stroke-width="0.12">4000</text>
<line x1="184.2" y1="400.1" x2="187.2" y2="400.1" stroke="#1a1a1a" stroke-width="0.9" />
<text x="180.7" y="402.5" font-size="8.13" text-anchor="end" textLength="17.6" lengthAdjust="spacingAndGlyphs" stroke="#1a1a1a" stroke-width="0.12">5000</text>
<line x1="187.2" y1="486" x2="187.2" y2="488.8" stroke="#1a1a1a" stroke-width="0.9" />
<text x="187.2" y="498.4" font-size="8" text-anchor="middle" stroke="#1a1a1a" stroke-width="0.12">0</text>
<line x1="214.15" y1="486" x2="214.15" y2="488.8" stroke="#1a1a1a" stroke-width="0.9" />
<text x="214.15" y="498.4" font-size="8" text-anchor="middle" stroke="#1a1a1a" stroke-width="0.12">1</text>
<line x1="241.1" y1="486" x2="241.1" y2="488.8" stroke="#1a1a1a" stroke-width="0.9" />
<text x="241.1" y="498.4" font-size="8" text-anchor="middle" stroke="#1a1a1a" stroke-width="0.12">2</text>
<line x1="268.05" y1="486" x2="268.05" y2="488.8" stroke="#1a1a1a" stroke-width="0.9" />
<text x="268.05" y="498.4" font-size="8" text-anchor="middle" stroke="#1a1a1a" stroke-width="0.12">3</text>
<text x="228.4" y="510.5" font-size="8.99" text-anchor="middle" textLength="30.8" lengthAdjust="spacingAndGlyphs" stroke="#1a1a1a" stroke-width="0.2">Time (min)</text>
<text x="0" y="0" font-size="9.42" text-anchor="middle" textLength="34.6" lengthAdjust="spacingAndGlyphs" transform="translate(159.1 441.3) rotate(-90)" stroke="#1a1a1a" stroke-width="0.3">Fibrin (MFI)</text>
<path d="M187.2 470.69L188 470.39L188.8 470.25L189.6 469.07L190.4 468.91L191.2 469.32L192 468.55L192.8 467.74L193.6 467.16L194.4 466.46L195.2 465.99L196 465.23L196.8 463.82L197.6 463.63L198.4 462.6L199.2 461.73L200 460.48L200.8 459.64L201.6 459.13L202.4 457.2L203.2 457.07L204 455.25L204.8 453.7L205.6 452.1L206.4 450.98L207.2 449.73L208 448.56L208.8 446.96L209.6 445.81L210.4 444.52L211.2 442.97L212 441.79L212.8 439.81L213.6 439.12L214.4 436.52L215.2 435.21L216 433.39L216.8 432.39L217.6 430.76L218.4 429.69L219.2 428.68L220 427.03L220.8 425.59L221.6 425.04L222.4 423.7L223.2 423.34L224 421.81L224.8 421.66L225.6 421.89L226.4 420.9L227.2 420.65L228 420.15L228.8 420.42L229.6 419.71L230.4 419.38L231.2 420.17L232 419.55L232.8 419.3L233.6 418.72L234.4 419.39L235.2 419.36L236 419.39L236.8 419.39L237.6 418.54L238.4 419.3L239.2 418.76L240 419.55L240.8 419.8L241.6 420.33L242.4 420.91L243.2 422.28L244 422.83L244.8 423.32L245.6 424.03L246.4 423.3L247.2 423.93L248 423.5L248.8 424.13L249.6 424.17L250.4 423.63L251.2 424.45L252 423.81L252.8 424.33L253.6 424.82L254.4 424.3L255.2 425.4L256 425.75L256.8 425.28L257.6 426.43L258.4 426.36L259.2 427.05L260 428.24L260.8 427.74L261.6 429.32L262.4 428.87L263.2 429.56L264 429.43L264.8 429.42L265.6 429.18L266.4 429.34L267.2 430.02L268 430.52L268 446.1L267.2 446.15L266.4 445.65L265.6 445.74L264.8 445.75L264 446.04L263.2 445.21L262.4 445.99L261.6 445.95L260.8 445.36L260 443.82L259.2 443.53L258.4 442.95L257.6 442.3L256.8 441.98L256 441.69L255.2 441.7L254.4 440.92L253.6 441.36L252.8 440.43L252 440.19L251.2 440.43L250.4 440.51L249.6 439.85L248.8 440.15L248 440.01L247.2 439.72L246.4 440.1L245.6 439.85L244.8 439.72L244 439.53L243.2 437.88L242.4 437.5L241.6 437.1L240.8 436.24L240 435.73L239.2 435.5L238.4 436.14L237.6 435.09L236.8 435.93L236 435.5L235.2 435.67L234.4 435.21L233.6 435.94L232.8 435.99L232 435.41L231.2 436.12L230.4 435.95L229.6 436.55L228.8 436.4L228 436.72L227.2 436.95L226.4 437.06L225.6 437.1L224.8 437.99L224 438.09L223.2 437.82L222.4 438.71L221.6 438.85L220.8 439.54L220 441.58L219.2 442.49L218.4 442.64L217.6 443.23L216.8 444.28L216 446.57L215.2 447.25L214.4 449.45L213.6 451.1L212.8 451.09L212 452.76L211.2 453.38L210.4 454.86L209.6 456.42L208.8 456.57L208 458.67L207.2 459.7L206.4 460.78L205.6 461.53L204.8 462.43L204 463.47L203.2 464.78L202.4 465.37L201.6 466L200.8 467.77L200 468.24L199.2 468.98L198.4 469.53L197.6 469.64L196.8 469.7L196 470.97L195.2 470.93L194.4 472.12L193.6 472.58L192.8 472.03L192 472.72L191.2 473.02L190.4 472.95L189.6 473.86L188.8 473.11L188 473.94L187.2 474.05Z" fill="#f6b8c4" stroke="none" stroke-width="1" />
<path d="M187.2 473.69L188 473.5L188.8 473.47L189.6 472.39L190.4 472.35L191.2 472.89L192 472.36L192.8 471.79L193.6 471.46L194.4 471.01L195.2 470.86L196 470.64L196.8 469.72L197.6 470.03L198.4 469.49L199.2 469.11L200 468.36L200.8 468.04L201.6 468.12L202.4 466.79L203.2 467.35L204 466.5L204.8 465.92L205.6 464.89L206.4 463.91L207.2 462.78L208 461.73L208.8 460.25L209.6 459.22L210.4 457.98L211.2 456.44L212 455.26L212.8 453.29L213.6 452.64L214.4 450.28L215.2 449.21L216 447.62L216.8 446.87L217.6 445.42L218.4 444.52L219.2 443.69L220 442.21L220.8 440.95L221.6 440.58L222.4 439.44L223.2 439.26L224 437.92L224.8 437.82L225.6 438.2L226.4 437.38L227.2 437.3L228 436.9L228.8 437.13L229.6 436.32L230.4 435.89L231.2 436.59L232 435.88L232.8 435.52L233.6 434.85L234.4 435.39L235.2 435.19L236 435.16L236.8 435.27L237.6 434.52L238.4 435.38L239.2 434.95L240 435.43L240.8 435.09L241.6 435.03L242.4 434.88L243.2 435.39L244 435.08L244.8 434.7L245.6 435.38L246.4 434.75L247.2 435.47L248 435.13L248.8 435.86L249.6 435.99L250.4 435.48L251.2 436.26L252 435.58L252.8 436.07L253.6 436.51L254.4 436L255.2 437.17L256 437.6L256.8 437.21L257.6 438.43L258.4 438.32L259.2 438.88L260 440.12L260.8 439.66L261.6 441.34L262.4 441.45L263.2 442.67L264 442.73L264.8 442.79L265.6 442.5L266.4 442.58L267.2 443.17L268 443.59L268 457.03L267.2 457.17L266.4 456.75L265.6 456.92L264.8 456.98L264 457.2L263.2 456.19L262.4 456.42L261.6 455.83L260.8 455.14L260 453.56L259.2 453.23L258.4 452.76L257.6 452.16L256.8 451.76L256 451.4L255.2 451.33L254.4 450.47L253.6 450.91L252.8 450.02L252 449.82L251.2 450.1L250.4 450.22L249.6 449.53L248.8 449.74L248 449.51L247.2 449.12L246.4 449.41L245.6 449.06L244.8 448.96L244 449.64L243.2 448.85L242.4 449.34L241.6 449.66L240.8 449.39L240 449.46L239.2 449.55L238.4 450.09L237.6 448.93L236.8 449.67L236 449.13L235.2 449.36L234.4 449.07L233.6 449.93L232.8 450.08L232 449.59L231.2 450.4L230.4 450.33L229.6 451.03L228.8 450.97L228 451.34L227.2 451.6L226.4 451.81L225.6 451.94L224.8 452.91L224 452.98L223.2 452.54L222.4 453.26L221.6 453.22L220.8 453.74L220 455.63L219.2 456.38L218.4 456.38L217.6 456.81L216.8 457.7L216 459.77L215.2 460.23L214.4 462.21L213.6 463.64L212.8 463.61L212 465.28L211.2 465.91L210.4 467.41L209.6 468.93L208.8 468.97L208 470.97L207.2 471.91L206.4 472.88L205.6 473.5L204.8 473.86L204 473.95L203.2 474.3L202.4 474.22L201.6 474.27L200.8 475.46L200 475.44L199.2 475.7L198.4 475.77L197.6 475.4L196.8 474.99L196 475.78L195.2 475.22L194.4 476.11L193.6 476.34L192.8 475.55L192 476.02L191.2 476.1L190.4 475.91L189.6 476.73L188.8 475.89L188 476.63L187.2 476.65Z" fill="#9ccae8" stroke="none" stroke-width="1" fill-opacity="0.85"/>
<path d="M187.2 478.19L188 478.29L188.8 478.55L189.6 477.76L190.4 478.01L191.2 478.84L192 478.6L192.8 478.31L193.6 478.25L194.4 478.07L195.2 478.18L196 478.18L196.8 477.52L197.6 478.09L198.4 477.81L199.2 477.7L200 477.21L200.8 477.16L201.6 477.57L202.4 476.58L203.2 477.33L204 476.65L204.8 476.24L205.6 475.79L206.4 475.8L207.2 475.65L208 475.59L208.8 475.11L209.6 475.07L210.4 474.88L211.2 474.43L212 474.35L212.8 473.47L213.6 473.93L214.4 472.8L215.2 472.96L216 472.6L216.8 473.08L217.6 472.55L218.4 472.45L219.2 472.42L220 471.75L220.8 471.3L221.6 471.5L222.4 470.89L223.2 471.25L224 470.44L224.8 470.63L225.6 471.2L226.4 470.55L227.2 470.63L228 470.4L228.8 470.73L229.6 469.98L230.4 469.63L231.2 470.42L232 469.8L232.8 469.54L233.6 468.96L234.4 469.6L235.2 469.49L236 469.45L236.8 469.38L237.6 468.46L238.4 469.14L239.2 468.53L240 468.85L240.8 468.49L241.6 468.41L242.4 468.24L243.2 468.73L244 468.4L244.8 468L245.6 468.51L246.4 467.69L247.2 468.22L248 467.72L248.8 468.27L249.6 468.24L250.4 467.56L251.2 468.17L252 467.32L252.8 467.63L253.6 467.9L254.4 467.13L255.2 467.91L256 467.94L256.8 467.16L257.6 467.99L258.4 467.48L259.2 467.6L260 468.23L260.8 467.16L261.6 468.24L262.4 467.75L263.2 468.39L264 468.23L264.8 468.18L265.6 467.79L266.4 467.77L267.2 468.25L268 468.57L268 469.65L267.2 469.89L266.4 469.58L265.6 469.85L264.8 470.01L264 470.34L263.2 469.55L262.4 470.37L261.6 470.37L260.8 470.29L260 469.31L259.2 469.59L258.4 469.56L257.6 469.36L256.8 469.35L256 469.39L255.2 469.71L254.4 469.25L253.6 469.94L252.8 469.22L252 469.19L251.2 469.65L250.4 469.94L249.6 469.42L248.8 469.8L248 469.73L247.2 469.51L246.4 469.99L245.6 469.83L244.8 469.9L244 470.6L243.2 469.83L242.4 470.34L241.6 470.68L240.8 470.43L240 470.52L239.2 470.77L238.4 471.48L237.6 470.5L236.8 471.42L236 471.06L235.2 471.3L234.4 470.91L233.6 471.68L232.8 471.74L232 471.16L231.2 471.87L230.4 471.71L229.6 472.33L228.8 472.21L228 472.47L227.2 472.58L226.4 472.62L225.6 472.58L224.8 473.41L224 473.43L223.2 472.71L222.4 473.14L221.6 472.82L220.8 473.02L220 474.35L219.2 474.54L218.4 473.99L217.6 473.86L216.8 474.08L216 475.17L215.2 474.65L214.4 475.65L213.6 476.1L212.8 475.21L212 476.04L211.2 475.82L210.4 476.47L209.6 477.19L208.8 476.5L208 477.76L207.2 477.95L206.4 478.19L205.6 478.07L204.8 478.1L204 478.26L203.2 478.69L202.4 478.67L201.6 478.64L200.8 479.75L200 479.69L199.2 479.95L198.4 480L197.6 479.62L196.8 479.2L196 479.98L195.2 479.45L194.4 480.33L193.6 480.53L192.8 479.72L192 480.16L191.2 480.21L190.4 479.98L189.6 480.75L188.8 479.88L188 480.57L187.2 480.55Z" fill="#b9b9b9" stroke="none" stroke-width="1" />
<path d="M187.2 479.49L188 479.4L188.8 479.25L189.6 479.49L190.4 479.1L191.2 479.24L192 479.35L192.8 478.97L193.6 479.11L194.4 479.09L195.2 478.79L196 478.82L196.8 478.84L197.6 478.63L198.4 478.64L199.2 478.3L200 478.23L200.8 478.07L201.6 478.12L202.4 478.18L203.2 477.8L204 477.61L204.8 477.19L205.6 477.07L206.4 476.54L207.2 476.35L208 476.24L208.8 475.99L209.6 475.6L210.4 475.22L211.2 475.08L212 474.83L212.8 474.64L213.6 474.63L214.4 474.17L215.2 474.22L216 474L216.8 473.45L217.6 473.36L218.4 473.18L219.2 472.78L220 472.72L220.8 472.69L221.6 472.23L222.4 472.29L223.2 471.97L224 472.02L224.8 472.02L225.6 471.61L226.4 471.4L227.2 471.29L228 471.35L228.8 471L229.6 470.9L230.4 470.95L231.2 471.02L232 470.71L232.8 470.6L233.6 470.6L234.4 470.28L235.2 470.37L236 470.1L236.8 470.18L237.6 470.21L238.4 469.75L239.2 469.85L240 469.78L240.8 469.51L241.6 469.48L242.4 469.68L243.2 469.6L244 469.16L244.8 469.31L245.6 469.33L246.4 468.96L247.2 469.03L248 468.75L248.8 468.82L249.6 468.89L250.4 468.8L251.2 468.81L252 468.48L252.8 468.53L253.6 468.68L254.4 468.55L255.2 468.52L256 468.53L256.8 468.8L257.6 468.66L258.4 468.47L259.2 468.81L260 468.66L260.8 468.73L261.6 468.67L262.4 468.8L263.2 468.81L264 468.77L264.8 469.04L265.6 468.88L266.4 469.21L267.2 468.96L268 469.31" fill="none" stroke="#4e4e4e" stroke-width="1.8" stroke-linejoin="round"/>
<path d="M187.2 472.57L188 472.11L188.8 471.95L189.6 471.26L190.4 471.55L191.2 471.21L192 470.6L192.8 469.67L193.6 469.59L194.4 468.96L195.2 468.37L196 468.34L196.8 467.66L197.6 465.98L198.4 466.06L199.2 465.08L200 464.13L200.8 463.26L201.6 462.75L202.4 461.63L203.2 460.87L204 459.57L204.8 457.76L205.6 457.12L206.4 456.07L207.2 454.82L208 453.22L208.8 451.41L209.6 450.13L210.4 449.04L211.2 448.66L212 446.83L212.8 445.71L213.6 445L214.4 442.87L215.2 441.55L216 439.88L216.8 437.95L217.6 437.28L218.4 436.48L219.2 434.72L220 433.72L220.8 432.85L221.6 431.7L222.4 431.44L223.2 431.04L224 430.16L224.8 429.7L225.6 429.69L226.4 428.65L227.2 428.73L228 428.2L228.8 428.24L229.6 427.65L230.4 428.22L231.2 427.44L232 427.41L232.8 427.95L233.6 428L234.4 427.42L235.2 427.37L236 427.17L236.8 427.17L237.6 427.48L238.4 427.02L239.2 426.93L240 427.65L240.8 427.88L241.6 428.89L242.4 429.72L243.2 430.48L244 430.98L244.8 431.65L245.6 431.85L246.4 431.43L247.2 432.16L248 431.79L248.8 431.8L249.6 431.57L250.4 432.03L251.2 432.32L252 432.28L252.8 432.92L253.6 432.88L254.4 432.67L255.2 433.3L256 434.04L256.8 434L257.6 434.43L258.4 434.36L259.2 435.38L260 435.95L260.8 436.48L261.6 437.03L262.4 437.29L263.2 437.33L264 437.38L264.8 437.14L265.6 437.62L266.4 438.39L267.2 438.08L268 437.94" fill="none" stroke="#d42042" stroke-width="1.2" stroke-linejoin="round"/>
<path d="M187.2 475.25L188 475.14L188.8 475.29L189.6 474.62L190.4 474.44L191.2 474.3L192 473.68L192.8 473.81L193.6 473.73L194.4 473.69L195.2 472.79L196 472.8L196.8 472.35L197.6 472.82L198.4 472.46L199.2 471.57L200 472.26L200.8 471.99L201.6 471.36L202.4 471.01L203.2 470.24L204 469.78L204.8 469.98L205.6 468.79L206.4 467.79L207.2 466.72L208 465.37L208.8 464.68L209.6 463.52L210.4 462.75L211.2 461.24L212 460.17L212.8 458.84L213.6 457.8L214.4 456.27L215.2 454.76L216 454.15L216.8 452.83L217.6 451.66L218.4 450.63L219.2 449.33L220 448.35L220.8 447.5L221.6 446.7L222.4 446.85L223.2 445.94L224 445.85L224.8 445.09L225.6 445.36L226.4 444.95L227.2 443.81L228 443.72L228.8 444.19L229.6 443.55L230.4 443.87L231.2 443.09L232 442.57L232.8 442.93L233.6 442.89L234.4 442.19L235.2 441.81L236 441.96L236.8 442.67L237.6 442.53L238.4 441.97L239.2 442.17L240 442.1L240.8 441.99L241.6 442.67L242.4 441.98L243.2 442.3L244 442.12L244.8 441.8L245.6 442.43L246.4 441.94L247.2 442.56L248 442.14L248.8 442.56L249.6 442.46L250.4 442.63L251.2 443.45L252 443.4L252.8 443.01L253.6 443.71L254.4 443.27L255.2 443.88L256 444.76L256.8 444.97L257.6 444.86L258.4 446.17L259.2 445.87L260 446.55L260.8 447.7L261.6 447.9L262.4 448.5L263.2 448.91L264 449.21L264.8 449.86L265.6 449.67L266.4 450.19L267.2 450.12L268 450.35" fill="none" stroke="#1d5f99" stroke-width="1.3" stroke-linejoin="round"/>
<line x1="200.67" y1="463.62" x2="200.67" y2="471.57" stroke="#333" stroke-width="0.6" />
<line x1="214.15" y1="443.54" x2="214.15" y2="456.72" stroke="#333" stroke-width="0.6" />
<line x1="227.62" y1="428.48" x2="227.62" y2="444.15" stroke="#333" stroke-width="0.6" />
<line x1="241.1" y1="428.41" x2="241.1" y2="442.41" stroke="#333" stroke-width="0.6" />
<line x1="254.57" y1="433.01" x2="254.57" y2="443.65" stroke="#333" stroke-width="0.6" />
<line x1="268.05" y1="438.4" x2="268.05" y2="450.4" stroke="#333" stroke-width="0.6" />
<circle cx="201" cy="452.2" r="0.95" fill="#111"/>
<circle cx="212.2" cy="431.9" r="0.95" fill="#111"/>
<text x="226.1" y="418" font-size="8" text-anchor="middle" stroke="#1a1a1a" stroke-width="0.12">ns</text>
<text x="242.2" y="414" font-size="8" text-anchor="middle" stroke="#1a1a1a" stroke-width="0.12">ns</text>
<text x="254.1" y="418" font-size="8" text-anchor="middle" stroke="#1a1a1a" stroke-width="0.12">ns</text>
<text x="267.4" y="425.4" font-size="8" text-anchor="middle" stroke="#1a1a1a" stroke-width="0.12">ns</text>
<rect x="103.6" y="520" width="5.2" height="5.2" fill="#3a7fc0" />
<path d="M105 521.4l2.4 2.4M107.4 521.4l-2.4 2.4" stroke="#123a66" stroke-width="0.7"/>
<text x="111.2" y="525.1" font-size="8.03" textLength="19.2" lengthAdjust="spacingAndGlyphs" stroke="#1a1a1a" stroke-width="0.12">CSPs</text>
<rect x="137" y="520" width="5.2" height="5.2" fill="#e0304e" />
<path d="M138.4 521.4l2.4 2.4M140.8 521.4l-2.4 2.4" stroke="#7a0a1e" stroke-width="0.7"/>
<text x="145" y="525.1" font-size="8.03" textLength="17" lengthAdjust="spacingAndGlyphs" stroke="#1a1a1a" stroke-width="0.12">RTPs</text>
<rect x="168" y="520" width="5.2" height="5.2" fill="#9a9a9a" />
<path d="M169.4 521.4l2.4 2.4M171.8 521.4l-2.4 2.4" stroke="#333" stroke-width="0.7"/>
<text x="176.5" y="525.1" font-size="8.03" textLength="38.5" lengthAdjust="spacingAndGlyphs" stroke="#1a1a1a" stroke-width="0.12">endogenous</text>
<text x="343.2" y="391.4" font-size="8.35" text-anchor="middle" textLength="31.6" lengthAdjust="spacingAndGlyphs" stroke="#1a1a1a" stroke-width="0.12">Pre-Injury</text>
<text x="436.6" y="390.9" font-size="8.35" text-anchor="middle" textLength="34.8" lengthAdjust="spacingAndGlyphs" stroke="#1a1a1a" stroke-width="0.12">Post-Injury</text>
<line x1="383" y1="394.8" x2="491.7" y2="394.8" stroke="#444" stroke-width="0.9" />
<text x="391.1" y="404.8" font-size="8.35" text-anchor="middle" textLength="19.2" lengthAdjust="spacingAndGlyphs" stroke="#1a1a1a" stroke-width="0.12">1 min</text>
<text x="437.4" y="404.8" font-size="8.35" text-anchor="middle" textLength="19.2" lengthAdjust="spacingAndGlyphs" stroke="#1a1a1a" stroke-width="0.12">2 min</text>
<text x="486.2" y="404.8" font-size="8.35" text-anchor="middle" textLength="19.2" lengthAdjust="spacingAndGlyphs" stroke="#1a1a1a" stroke-width="0.12">3 min</text>
<text x="299.7" y="435.2" font-size="8.03" textLength="18.5" lengthAdjust="spacingAndGlyphs" stroke="#1a1a1a" stroke-width="0.12">RTPs</text>
<text x="298" y="492.6" font-size="8.03" textLength="19.7" lengthAdjust="spacingAndGlyphs" stroke="#1a1a1a" stroke-width="0.12">CSPs</text>
<defs>
<filter id="blr" x="-5%" y="-5%" width="110%" height="110%"><feGaussianBlur stdDeviation="0.45"/></filter>
<filter id="spk" x="0" y="0" width="100%" height="100%" color-interpolation-filters="sRGB">
<feTurbulence type="fractalNoise" baseFrequency="0.55" numOctaves="2" seed="4"/>
<feColorMatrix type="matrix" values="0 0 0 0 0  0 0 0 0 0  0 0 0 0 0  1.8 0 0 0 -0.6"/></filter>
<filter id="spw" x="0" y="0" width="100%" height="100%" color-interpolation-filters="sRGB">
<feTurbulence type="fractalNoise" baseFrequency="0.55" numOctaves="2" seed="9"/>
<feColorMatrix type="matrix" values="0 0 0 0 1  0 0 0 0 1  0 0 0 0 1  1.8 0 0 0 -0.6"/></filter>
<filter id="stw" x="0" y="0" width="100%" height="100%" color-interpolation-filters="sRGB">
<feTurbulence type="fractalNoise" baseFrequency="0.07 0.8" numOctaves="2" seed="5"/>
<feColorMatrix type="matrix" values="0 0 0 0 1  0 0 0 0 1  0 0 0 0 1  2.6 0 0 0 -1.1"/></filter>
<filter id="bnd" x="0" y="0" width="100%" height="100%" color-interpolation-filters="sRGB">
<feTurbulence type="fractalNoise" baseFrequency="0.03 0.18" numOctaves="1" seed="21"/>
<feColorMatrix type="matrix" values="0 0 0 0 0  0 0 0 0 0  0 0 0 0 0  3 0 0 0 -1.2"/></filter>
<filter id="bndw" x="0" y="0" width="100%" height="100%" color-interpolation-filters="sRGB">
<feTurbulence type="fractalNoise" baseFrequency="0.03 0.18" numOctaves="1" seed="33"/>
<feColorMatrix type="matrix" values="0 0 0 0 1  0 0 0 0 1  0 0 0 0 1  3 0 0 0 -1.3"/></filter>
<filter id="stk" x="0" y="0" width="100%" height="100%" color-interpolation-filters="sRGB">
<feTurbulence type="fractalNoise" baseFrequency="0.07 0.8" numOctaves="2" seed="12"/>
<feColorMatrix type="matrix" values="0 0 0 0 0  0 0 0 0 0  0 0 0 0 0  2.6 0 0 0 -1.1"/></filter>
</defs>
<clipPath id="c00"><rect x="320.6" y="409.7" width="45.4" height="46.6"/></clipPath>
<g clip-path="url(#c00)"><g filter="url(#blr)">
<rect x="318.6" y="407.7" width="49.4" height="50.6" fill="#5a5a5a" />
<rect x="308.3" y="398" width="70" height="70" filter="url(#bnd)" opacity="0.6" transform="rotate(58 343.3 433)"/>
<rect x="308.3" y="398" width="70" height="70" filter="url(#stw)" opacity="0.55" transform="rotate(60 343.3 433)"/>
<rect x="308.3" y="398" width="70" height="70" filter="url(#stw)" opacity="0.25" transform="rotate(150 343.3 433)"/>
<rect x="320.6" y="409.7" width="45.4" height="46.6" filter="url(#spk)" opacity="0.4"/>
<rect x="320.6" y="409.7" width="45.4" height="46.6" filter="url(#spw)" opacity="0.15"/>
<path d="M329.6 408.7L341.6 408.7L358.6 457.7L345.6 457.7 Z" fill="#202020" fill-opacity="0.35"/>
<path d="M350.6 408.7L367.6 408.7L367.6 429.7 Z" fill="#9a9a9a" fill-opacity="0.3"/>
</g></g>
<rect x="321.4" y="453.7" width="12.4" height="1.8" fill="#ffffff" />
<clipPath id="c01"><rect x="368.3" y="409.7" width="45.4" height="46.6"/></clipPath>
<g clip-path="url(#c01)"><g filter="url(#blr)">
<rect x="366.3" y="407.7" width="49.4" height="50.6" fill="#a2a2a2" />
<rect x="356" y="398" width="70" height="70" filter="url(#bndw)" opacity="0.8" transform="rotate(40 391 433)"/>
<rect x="356" y="398" width="70" height="70" filter="url(#bnd)" opacity="0.35" transform="rotate(-35 391 433)"/>
<rect x="356" y="398" width="70" height="70" filter="url(#stw)" opacity="0.75" transform="rotate(-35 391 433)"/>
<rect x="356" y="398" width="70" height="70" filter="url(#stw)" opacity="0.7" transform="rotate(40 391 433)"/>
<rect x="356" y="398" width="70" height="70" filter="url(#stk)" opacity="0.45" transform="rotate(-35 391 433)"/>
<rect x="368.3" y="409.7" width="45.4" height="46.6" filter="url(#spk)" opacity="0.5"/>
<rect x="368.3" y="409.7" width="45.4" height="46.6" filter="url(#spw)" opacity="0.6"/>
</g></g>
<rect x="369.1" y="453.7" width="12.4" height="1.8" fill="#ffffff" />
<clipPath id="c02"><rect x="416" y="409.7" width="45.4" height="46.6"/></clipPath>
<g clip-path="url(#c02)"><g filter="url(#blr)">
<rect x="414" y="407.7" width="49.4" height="50.6" fill="#a0a0a0" />
<rect x="403.7" y="398" width="70" height="70" filter="url(#bndw)" opacity="0.8" transform="rotate(38 438.7 433)"/>
<rect x="403.7" y="398" width="70" height="70" filter="url(#bnd)" opacity="0.35" transform="rotate(-40 438.7 433)"/>
<rect x="403.7" y="398" width="70" height="70" filter="url(#stw)" opacity="0.75" transform="rotate(-40 438.7 433)"/>
<rect x="403.7" y="398" width="70" height="70" filter="url(#stw)" opacity="0.7" transform="rotate(35 438.7 433)"/>
<rect x="403.7" y="398" width="70" height="70" filter="url(#stk)" opacity="0.45" transform="rotate(40 438.7 433)"/>
<rect x="416" y="409.7" width="45.4" height="46.6" filter="url(#spk)" opacity="0.5"/>
<rect x="416" y="409.7" width="45.4" height="46.6" filter="url(#spw)" opacity="0.6"/>
</g></g>
<rect x="416.8" y="453.7" width="12.4" height="1.8" fill="#ffffff" />
<clipPath id="c03"><rect x="463.8" y="409.7" width="45.4" height="46.6"/></clipPath>
<g clip-path="url(#c03)"><g filter="url(#blr)">
<rect x="461.8" y="407.7" width="49.4" height="50.6" fill="#5e5e5e" />
<rect x="451.5" y="398" width="70" height="70" filter="url(#bndw)" opacity="0.45" transform="rotate(40 486.5 433)"/>
<rect x="451.5" y="398" width="70" height="70" filter="url(#bnd)" opacity="0.5" transform="rotate(-35 486.5 433)"/>
<rect x="451.5" y="398" width="70" height="70" filter="url(#stw)" opacity="0.45" transform="rotate(-35 486.5 433)"/>
<rect x="451.5" y="398" width="70" height="70" filter="url(#stw)" opacity="0.45" transform="rotate(40 486.5 433)"/>
<rect x="463.8" y="409.7" width="45.4" height="46.6" filter="url(#spk)" opacity="0.4"/>
<rect x="463.8" y="409.7" width="45.4" height="46.6" filter="url(#spw)" opacity="0.25"/>
</g></g>
<rect x="464.6" y="453.7" width="12.4" height="1.8" fill="#ffffff" />
<clipPath id="c10"><rect x="320.6" y="464.7" width="45.4" height="46.6"/></clipPath>
<g clip-path="url(#c10)"><g filter="url(#blr)">
<rect x="318.6" y="462.7" width="49.4" height="50.6" fill="#d6d6d6" />
<rect x="320.6" y="464.7" width="45.4" height="46.6" filter="url(#spk)" opacity="0.85"/>
<rect x="320.6" y="464.7" width="45.4" height="46.6" filter="url(#spw)" opacity="0.6"/>
<path d="M329.6 466.7L346.6 466.7L350.6 478.7L344.6 485.7L330.6 482.7 Z" fill="#7a7a7a" fill-opacity="0.5"/>
<path d="M342.6 488.7L366.6 490.7L366.6 511.7L346.6 511.7L338.6 500.7 Z" fill="#6e6e6e" fill-opacity="0.5"/>
<path d="M320.6 464.7L328.6 464.7L324.6 478.7L320.6 480.7 Z" fill="#8a8a8a" fill-opacity="0.5"/>
<path d="M350.6 464.7L366.6 464.7L366.6 472.7L356.6 474.7 Z" fill="#9a9a9a" fill-opacity="0.5"/>
<line x1="327.3" y1="510.7" x2="351.6" y2="464.7" stroke="#222" stroke-width="1.5" stroke-opacity="0.8" stroke-linecap="round"/>
<line x1="332.1" y1="512.7" x2="357.1" y2="464.7" stroke="#222" stroke-width="1.4" stroke-opacity="0.75" stroke-linecap="round"/>
<line x1="319.6" y1="482.7" x2="366.6" y2="493.7" stroke="#222" stroke-width="1.6" stroke-opacity="0.8" stroke-linecap="round"/>
<line x1="334.6" y1="464.7" x2="326.1" y2="481.7" stroke="#333" stroke-width="1.2" stroke-opacity="0.7" stroke-linecap="round"/>
<line x1="340.6" y1="510.7" x2="366.6" y2="505.7" stroke="#333" stroke-width="1" stroke-opacity="0.6" stroke-linecap="round"/>
</g></g>
<rect x="321.4" y="508.7" width="12.4" height="1.8" fill="#ffffff" />
<clipPath id="c11"><rect x="368.3" y="464.7" width="45.4" height="46.6"/></clipPath>
<g clip-path="url(#c11)"><g filter="url(#blr)">
<rect x="366.3" y="462.7" width="49.4" height="50.6" fill="#d2d2d2" />
<rect x="368.3" y="464.7" width="45.4" height="46.6" filter="url(#spk)" opacity="0.85"/>
<rect x="368.3" y="464.7" width="45.4" height="46.6" filter="url(#spw)" opacity="0.6"/>
<path d="M368.3 464.7L394.3 464.7L392.3 481.7L368.3 483.7 Z" fill="#6a6a6a" fill-opacity="0.5"/>
<path d="M390.3 490.7L414.3 486.7L414.3 511.7L390.3 511.7 Z" fill="#646464" fill-opacity="0.5"/>
<path d="M398.3 468.7L412.3 466.7L414.3 482.7L402.3 484.7 Z" fill="#b8b8b8" fill-opacity="0.5"/>
<line x1="382.8" y1="511.7" x2="405.8" y2="464.7" stroke="#222" stroke-width="1.6" stroke-opacity="0.75" stroke-linecap="round"/>
<line x1="367.3" y1="483.7" x2="414.3" y2="492.7" stroke="#222" stroke-width="1.8" stroke-opacity="0.8" stroke-linecap="round"/>
<line x1="368.3" y1="495.7" x2="388.3" y2="500.7" stroke="#333" stroke-width="1.2" stroke-opacity="0.6" stroke-linecap="round"/>
<line x1="398.3" y1="464.7" x2="414.3" y2="474.7" stroke="#333" stroke-width="1" stroke-opacity="0.6" stroke-linecap="round"/>
</g></g>
<rect x="369.1" y="508.7" width="12.4" height="1.8" fill="#ffffff" />
<clipPath id="c12"><rect x="416" y="464.7" width="45.4" height="46.6"/></clipPath>
<g clip-path="url(#c12)"><g filter="url(#blr)">
<rect x="414" y="462.7" width="49.4" height="50.6" fill="#d2d2d2" />
<rect x="416" y="464.7" width="45.4" height="46.6" filter="url(#spk)" opacity="0.85"/>
<rect x="416" y="464.7" width="45.4" height="46.6" filter="url(#spw)" opacity="0.6"/>
<path d="M416 464.7L442 464.7L440 481.7L416 483.7 Z" fill="#707070" fill-opacity="0.5"/>
<path d="M440 490.7L462 486.7L462 511.7L440 511.7 Z" fill="#646464" fill-opacity="0.5"/>
<line x1="430.3" y1="513.7" x2="457.2" y2="462" stroke="#222" stroke-width="1.6" stroke-opacity="0.75" stroke-linecap="round"/>
<line x1="415" y1="482.7" x2="462" y2="491.7" stroke="#222" stroke-width="1.8" stroke-opacity="0.8" stroke-linecap="round"/>
<line x1="416" y1="495.7" x2="436" y2="500.7" stroke="#333" stroke-width="1.2" stroke-opacity="0.6" stroke-linecap="round"/>
<line x1="446" y1="464.7" x2="462" y2="474.7" stroke="#333" stroke-width="1" stroke-opacity="0.6" stroke-linecap="round"/>
</g></g>
<rect x="416.8" y="508.7" width="12.4" height="1.8" fill="#ffffff" />
<clipPath id="c13"><rect x="463.8" y="464.7" width="45.4" height="46.6"/></clipPath>
<g clip-path="url(#c13)"><g filter="url(#blr)">
<rect x="461.8" y="462.7" width="49.4" height="50.6" fill="#d2d2d2" />
<rect x="463.8" y="464.7" width="45.4" height="46.6" filter="url(#spk)" opacity="0.85"/>
<rect x="463.8" y="464.7" width="45.4" height="46.6" filter="url(#spw)" opacity="0.6"/>
<path d="M463.8 464.7L489.8 464.7L487.8 481.7L463.8 483.7 Z" fill="#787878" fill-opacity="0.5"/>
<path d="M489.8 490.7L509.8 486.7L509.8 511.7L489.8 511.7 Z" fill="#646464" fill-opacity="0.5"/>
<line x1="481" y1="513.7" x2="502" y2="464.7" stroke="#222" stroke-width="1.6" stroke-opacity="0.75" stroke-linecap="round"/>
<line x1="462.8" y1="482.7" x2="509.8" y2="491.7" stroke="#222" stroke-width="1.8" stroke-opacity="0.8" stroke-linecap="round"/>
<line x1="463.8" y1="495.7" x2="483.8" y2="500.7" stroke="#333" stroke-width="1.2" stroke-opacity="0.6" stroke-linecap="round"/>
</g></g>
<rect x="464.6" y="508.7" width="12.4" height="1.8" fill="#ffffff" />
<g filter="url(#blr)">
<circle cx="398.74" cy="439.54" r="0.8" fill="#3a8a9a" fill-opacity="0.45"/><circle cx="385.09" cy="432.61" r="0.9" fill="#5ab080" fill-opacity="0.45"/><circle cx="394.28" cy="439.69" r="0.95" fill="#4aa0a0" fill-opacity="0.45"/><circle cx="392.77" cy="427.6" r="0.81" fill="#4aa0a0" fill-opacity="0.45"/><circle cx="394.99" cy="424.72" r="1.32" fill="#3a8a9a" fill-opacity="0.45"/><circle cx="397.25" cy="433.34" r="0.61" fill="#b05a7a" fill-opacity="0.45"/><circle cx="398.75" cy="426.53" r="1.18" fill="#4aa0a0" fill-opacity="0.45"/><circle cx="383.46" cy="430.83" r="1.04" fill="#4aa0a0" fill-opacity="0.45"/><circle cx="387.54" cy="439.48" r="1.36" fill="#4aa0a0" fill-opacity="0.45"/><circle cx="398.78" cy="429.22" r="1.34" fill="#b05a7a" fill-opacity="0.45"/><circle cx="399.13" cy="437.29" r="1.29" fill="#5ab080" fill-opacity="0.45"/><circle cx="397.23" cy="436.99" r="1.38" fill="#5ab080" fill-opacity="0.45"/><circle cx="382.18" cy="432.35" r="1.26" fill="#b05a7a" fill-opacity="0.45"/><circle cx="389.28" cy="426.7" r="1.38" fill="#b05a7a" fill-opacity="0.45"/><circle cx="382.33" cy="432.44" r="1.07" fill="#4aa0a0" fill-opacity="0.45"/><circle cx="398.41" cy="433.73" r="0.93" fill="#4aa0a0" fill-opacity="0.45"/><circle cx="396.06" cy="439.37" r="1.22" fill="#5ab080" fill-opacity="0.45"/><circle cx="392.01" cy="427.13" r="1.01" fill="#5ab080" fill-opacity="0.45"/><circle cx="393.77" cy="424.81" r="0.9" fill="#4aa0a0" fill-opacity="0.45"/><circle cx="391.6" cy="425.02" r="1.16" fill="#7a6aa8" fill-opacity="0.45"/><circle cx="400.48" cy="431.54" r="1.12" fill="#4aa0a0" fill-opacity="0.45"/><circle cx="395.37" cy="437.69" r="1.22" fill="#3a8a9a" fill-opacity="0.45"/><circle cx="383.08" cy="430.03" r="0.92" fill="#5a9ab8" fill-opacity="0.45"/><circle cx="387.09" cy="440.33" r="0.97" fill="#7a6aa8" fill-opacity="0.45"/><circle cx="391.45" cy="440.21" r="0.6" fill="#5ab080" fill-opacity="0.45"/><circle cx="394.37" cy="423.21" r="1.01" fill="#5ab080" fill-opacity="0.45"/><circle cx="398.7" cy="439.04" r="0.94" fill="#5a9ab8" fill-opacity="0.45"/><circle cx="401.48" cy="435.74" r="1.04" fill="#b05a7a" fill-opacity="0.45"/>
<path d="M387.5 427.6C389.5 425.6 394.5 426 396.8 428.6C398.6 430.8 398 433.6 396.4 435.6C395.2 437.2 393 437 392.6 438.6C392.2 440.2 390.6 441.6 389.4 440.6C388.4 439.6 390.2 437.4 390 435.8C389.8 434.4 391.6 433.4 390.4 432.2C388.8 431.2 386.4 429.6 387.5 427.6Z" fill="#e41a22" stroke="none" stroke-width="1" />
<circle cx="450.23" cy="429.97" r="0.67" fill="#3a8a9a" fill-opacity="0.45"/><circle cx="435.98" cy="437.58" r="1.28" fill="#5ab080" fill-opacity="0.45"/><circle cx="439.84" cy="439.26" r="1.06" fill="#3a8a9a" fill-opacity="0.45"/><circle cx="444.07" cy="439.33" r="1.24" fill="#4aa0a0" fill-opacity="0.45"/><circle cx="445.09" cy="426.64" r="1.04" fill="#7a6aa8" fill-opacity="0.45"/><circle cx="433.6" cy="435.17" r="1.3" fill="#3a8a9a" fill-opacity="0.45"/><circle cx="432.91" cy="440.93" r="0.94" fill="#4aa0a0" fill-opacity="0.45"/><circle cx="444.44" cy="428.85" r="0.79" fill="#5a9ab8" fill-opacity="0.45"/><circle cx="446.86" cy="433.95" r="1.01" fill="#5a9ab8" fill-opacity="0.45"/><circle cx="434.71" cy="439.19" r="0.75" fill="#b05a7a" fill-opacity="0.45"/><circle cx="447.62" cy="426.8" r="1.02" fill="#5ab080" fill-opacity="0.45"/><circle cx="446" cy="428.95" r="0.88" fill="#b05a7a" fill-opacity="0.45"/><circle cx="450.65" cy="431.61" r="1.36" fill="#5a9ab8" fill-opacity="0.45"/><circle cx="432.22" cy="438.49" r="1.02" fill="#5ab080" fill-opacity="0.45"/><circle cx="429.32" cy="433.56" r="1.01" fill="#b05a7a" fill-opacity="0.45"/><circle cx="442.49" cy="424.24" r="1.32" fill="#4aa0a0" fill-opacity="0.45"/><circle cx="431.68" cy="434.96" r="1.18" fill="#b05a7a" fill-opacity="0.45"/><circle cx="433.5" cy="433.44" r="1.25" fill="#7a6aa8" fill-opacity="0.45"/><circle cx="445.15" cy="424.02" r="0.81" fill="#b05a7a" fill-opacity="0.45"/><circle cx="445.79" cy="429.23" r="1.26" fill="#5ab080" fill-opacity="0.45"/><circle cx="432.39" cy="429.81" r="1.07" fill="#b05a7a" fill-opacity="0.45"/><circle cx="437.5" cy="438.76" r="0.89" fill="#b05a7a" fill-opacity="0.45"/><circle cx="435.74" cy="423.42" r="1.18" fill="#7a6aa8" fill-opacity="0.45"/><circle cx="445.12" cy="429.48" r="0.68" fill="#5ab080" fill-opacity="0.45"/><circle cx="435.09" cy="430.47" r="0.78" fill="#b05a7a" fill-opacity="0.45"/><circle cx="443.97" cy="428.86" r="0.71" fill="#b05a7a" fill-opacity="0.45"/><circle cx="438.91" cy="442.86" r="0.94" fill="#3a8a9a" fill-opacity="0.45"/><circle cx="438.81" cy="427.72" r="0.89" fill="#7a6aa8" fill-opacity="0.45"/><circle cx="439.92" cy="438.14" r="1.36" fill="#3a8a9a" fill-opacity="0.45"/><circle cx="449.22" cy="434.4" r="0.9" fill="#3a8a9a" fill-opacity="0.45"/>
<path d="M434.6 428.4C436.2 426.2 440.4 426.4 442.4 428.6C444.6 431 445.2 434.4 443.8 436.8C442.6 438.8 440.2 439.6 438.6 438.2C437.2 437 436 435.2 435 433.4C434 431.8 433.8 429.8 434.6 428.4Z" fill="#e41a22" stroke="none" stroke-width="1" />
<ellipse cx="437.6" cy="431.4" rx="2.4" ry="2" fill="#f4e81c"/>
<circle cx="436" cy="434.5" r="1.2" fill="#7ac83a"/>
<circle cx="488.63" cy="442.21" r="1.33" fill="#7a6aa8" fill-opacity="0.45"/><circle cx="479.56" cy="435.29" r="0.61" fill="#b05a7a" fill-opacity="0.45"/><circle cx="491.47" cy="428.24" r="0.75" fill="#5a9ab8" fill-opacity="0.45"/><circle cx="486.3" cy="425.76" r="0.98" fill="#b05a7a" fill-opacity="0.45"/><circle cx="484.15" cy="429.3" r="0.72" fill="#5ab080" fill-opacity="0.45"/><circle cx="494.63" cy="430.57" r="1.14" fill="#3a8a9a" fill-opacity="0.45"/><circle cx="496.84" cy="437.66" r="0.63" fill="#b05a7a" fill-opacity="0.45"/><circle cx="489.88" cy="424.08" r="0.98" fill="#7a6aa8" fill-opacity="0.45"/><circle cx="485.99" cy="423.77" r="1.23" fill="#5ab080" fill-opacity="0.45"/><circle cx="479.54" cy="438.08" r="0.96" fill="#b05a7a" fill-opacity="0.45"/><circle cx="497.49" cy="429.83" r="0.63" fill="#3a8a9a" fill-opacity="0.45"/><circle cx="481.37" cy="434.11" r="0.95" fill="#5ab080" fill-opacity="0.45"/><circle cx="483.18" cy="428.98" r="1.27" fill="#b05a7a" fill-opacity="0.45"/><circle cx="480.6" cy="430.19" r="1.07" fill="#4aa0a0" fill-opacity="0.45"/><circle cx="495.55" cy="428.71" r="1.29" fill="#3a8a9a" fill-opacity="0.45"/><circle cx="497.08" cy="433.39" r="1.16" fill="#5a9ab8" fill-opacity="0.45"/><circle cx="484.16" cy="441.28" r="1.06" fill="#b05a7a" fill-opacity="0.45"/><circle cx="486.57" cy="427.71" r="0.81" fill="#b05a7a" fill-opacity="0.45"/><circle cx="493.65" cy="439.51" r="1.39" fill="#5ab080" fill-opacity="0.45"/><circle cx="496.38" cy="439.11" r="1.32" fill="#4aa0a0" fill-opacity="0.45"/><circle cx="495.58" cy="434.86" r="1.3" fill="#4aa0a0" fill-opacity="0.45"/><circle cx="496.42" cy="436.3" r="0.9" fill="#3a8a9a" fill-opacity="0.45"/><circle cx="480.83" cy="429.57" r="1" fill="#7a6aa8" fill-opacity="0.45"/><circle cx="494.94" cy="433.83" r="0.69" fill="#3a8a9a" fill-opacity="0.45"/><circle cx="477.52" cy="431.52" r="0.83" fill="#4aa0a0" fill-opacity="0.45"/><circle cx="487.23" cy="443.07" r="0.85" fill="#7a6aa8" fill-opacity="0.45"/><circle cx="498.09" cy="431.22" r="0.9" fill="#4aa0a0" fill-opacity="0.45"/><circle cx="493.06" cy="428.5" r="1.14" fill="#b05a7a" fill-opacity="0.45"/><circle cx="496.7" cy="440.44" r="0.82" fill="#b05a7a" fill-opacity="0.45"/><circle cx="481.78" cy="426.91" r="0.95" fill="#7a6aa8" fill-opacity="0.45"/>
<path d="M482.6 429C484.6 426.4 489.4 426.6 491.6 428.8C493.8 431 494.2 435.2 492.6 437.6C491 439.8 487.6 440 485.8 438.4C484 436.8 482 432.4 482.6 429Z" fill="#e41a22" stroke="none" stroke-width="1" />
<ellipse cx="485.8" cy="432" rx="2.6" ry="2.2" fill="#f4e81c"/>
</g>
<g filter="url(#blr)"><circle cx="395" cy="484.6" r="5.2" fill="#e8dc28"/>
<circle cx="394.2" cy="484.2" r="4.2" fill="#62c03c"/>
<path d="M390 490.5L392 493L388 494Z" fill="#b04aa0" fill-opacity="0.5"/>
<circle cx="446.2" cy="484.2" r="5.0" fill="#e8d428"/>
<circle cx="445.2" cy="483.8" r="4.2" fill="#62c03c"/>
<path d="M450 486L454 488L452 490Z" fill="#e07a30" fill-opacity="0.8"/>
<circle cx="492.8" cy="485" r="6.4" fill="#5cbc40"/>
<circle cx="492.2" cy="484.4" r="4.5" fill="#6cd04a" fill-opacity="0.6"/></g>
<rect x="362" y="517.8" width="5.4" height="5.4" fill="#5cc040" />
<text x="370.8" y="523.4" font-size="8.03" textLength="26.5" lengthAdjust="spacingAndGlyphs" stroke="#1a1a1a" stroke-width="0.12">Platelets</text>
<rect x="402.8" y="517.8" width="5.4" height="5.4" fill="#e8141c" />
<text x="411.7" y="523.4" font-size="8.03" textLength="19" lengthAdjust="spacingAndGlyphs" stroke="#1a1a1a" stroke-width="0.12">Fibrin</text>
<rect x="437" y="517.8" width="5.4" height="5.4" fill="#f0e020" />
<text x="444.9" y="523.4" font-size="8.03" textLength="23" lengthAdjust="spacingAndGlyphs" stroke="#1a1a1a" stroke-width="0.12">Overlay</text>
</svg></body></html>
